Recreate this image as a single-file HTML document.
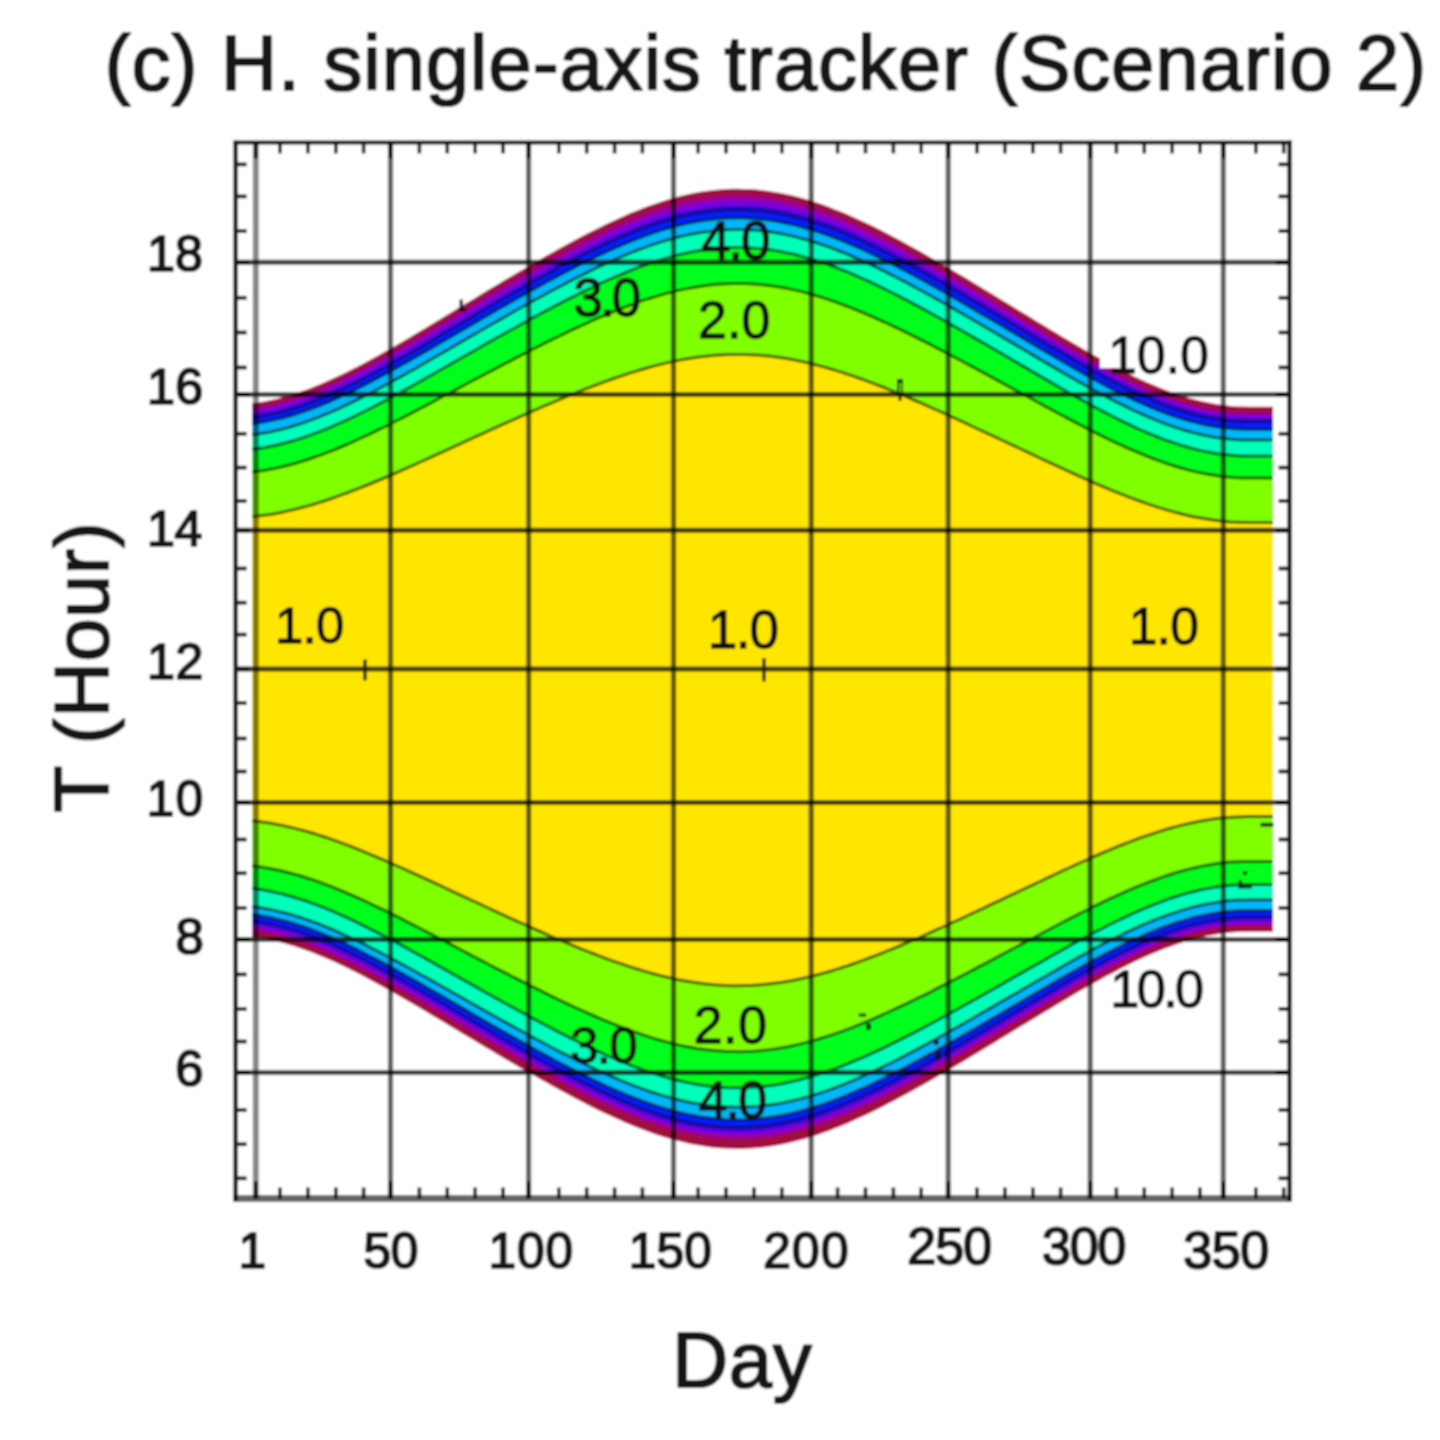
<!DOCTYPE html>
<html><head><meta charset="utf-8"><style>html,body{margin:0;padding:0;background:#fff;}svg{display:block;}</style></head>
<body><svg width="1440" height="1440" viewBox="0 0 1440 1440">
<defs><filter id="bl" x="0" y="0" width="1440" height="1440" filterUnits="userSpaceOnUse"><feGaussianBlur stdDeviation="1.0"/></filter></defs>
<rect width="1440" height="1440" fill="#fff"/>
<g filter="url(#bl)">
<rect width="1440" height="1440" fill="#fff"/>
<path d="M252.0,403.4 L258.0,402.5 L264.0,401.5 L270.0,400.3 L276.0,398.9 L282.0,397.3 L288.0,395.7 L294.0,393.8 L300.0,391.8 L306.1,389.7 L312.1,387.4 L318.1,385.0 L324.1,382.5 L330.1,379.8 L336.1,377.1 L342.1,374.2 L348.1,371.3 L354.1,368.3 L360.1,365.2 L366.1,362.0 L372.1,358.7 L378.1,355.4 L384.1,352.1 L390.1,348.7 L396.1,345.2 L402.1,341.7 L408.2,338.2 L414.2,334.6 L420.2,331.0 L426.2,327.4 L432.2,323.8 L438.2,320.2 L444.2,316.6 L450.2,312.9 L456.2,309.3 L462.2,305.6 L468.2,302.0 L474.2,298.4 L480.2,294.7 L486.2,291.1 L492.2,287.5 L498.2,283.9 L504.2,280.3 L510.3,276.7 L516.3,273.2 L522.3,269.7 L528.3,266.2 L534.3,262.7 L540.3,259.2 L546.3,255.8 L552.3,252.4 L558.3,249.0 L564.3,245.7 L570.3,242.5 L576.3,239.2 L582.3,236.1 L588.3,232.9 L594.3,229.9 L600.3,226.9 L606.3,224.0 L612.4,221.2 L618.4,218.4 L624.4,215.7 L630.4,213.1 L636.4,210.7 L642.4,208.3 L648.4,206.0 L654.4,203.9 L660.4,201.9 L666.4,200.0 L672.4,198.2 L678.4,196.6 L684.4,195.1 L690.4,193.8 L696.4,192.6 L702.4,191.6 L708.4,190.7 L714.5,190.0 L720.5,189.4 L726.5,189.0 L732.5,188.8 L738.5,188.8 L744.5,188.9 L750.5,189.1 L756.5,189.6 L762.5,190.2 L768.5,191.0 L774.5,191.9 L780.5,193.0 L786.5,194.2 L792.5,195.6 L798.5,197.1 L804.5,198.8 L810.5,200.6 L816.6,202.6 L822.6,204.6 L828.6,206.8 L834.6,209.2 L840.6,211.6 L846.6,214.1 L852.6,216.7 L858.6,219.4 L864.6,222.3 L870.6,225.1 L876.6,228.1 L882.6,231.1 L888.6,234.2 L894.6,237.4 L900.6,240.6 L906.6,243.9 L912.6,247.2 L918.7,250.6 L924.7,254.0 L930.7,257.4 L936.7,260.9 L942.7,264.4 L948.7,267.9 L954.7,271.4 L960.7,275.0 L966.7,278.6 L972.7,282.2 L978.7,285.8 L984.7,289.5 L990.7,293.1 L996.7,296.8 L1002.7,300.4 L1008.7,304.1 L1014.7,307.8 L1020.8,311.4 L1026.8,315.1 L1032.8,318.8 L1038.8,322.4 L1044.8,326.1 L1050.8,329.7 L1056.8,333.3 L1062.8,336.9 L1068.8,340.5 L1074.8,344.1 L1080.8,347.6 L1086.8,351.0 L1092.8,354.5 L1098.8,357.8 L1104.8,361.1 L1110.8,364.4 L1116.8,367.6 L1122.9,370.7 L1128.9,373.7 L1134.9,376.7 L1140.9,379.5 L1146.9,382.2 L1152.9,384.8 L1158.9,387.3 L1164.9,389.7 L1170.9,392.0 L1176.9,394.1 L1182.9,396.0 L1188.9,397.9 L1194.9,399.5 L1200.9,401.0 L1206.9,402.3 L1212.9,403.5 L1218.9,404.5 L1225.0,405.3 L1231.0,405.9 L1237.0,406.4 L1243.0,406.6 L1249.0,406.7 L1255.0,406.7 L1261.0,406.7 L1267.0,406.7 L1273.0,406.7 L1273.0,931.7 L1267.0,931.7 L1261.0,931.7 L1255.0,931.7 L1249.0,931.7 L1243.0,931.8 L1237.0,932.0 L1231.0,932.5 L1225.0,933.1 L1218.9,933.9 L1212.9,934.9 L1206.9,936.1 L1200.9,937.4 L1194.9,938.9 L1188.9,940.5 L1182.9,942.3 L1176.9,944.3 L1170.9,946.4 L1164.9,948.6 L1158.9,951.0 L1152.9,953.5 L1146.9,956.1 L1140.9,958.8 L1134.9,961.6 L1128.9,964.6 L1122.9,967.6 L1116.8,970.7 L1110.8,973.9 L1104.8,977.1 L1098.8,980.4 L1092.8,983.8 L1086.8,987.2 L1080.8,990.6 L1074.8,994.1 L1068.8,997.7 L1062.8,1001.2 L1056.8,1004.8 L1050.8,1008.4 L1044.8,1012.0 L1038.8,1015.7 L1032.8,1019.3 L1026.8,1023.0 L1020.8,1026.6 L1014.7,1030.3 L1008.7,1034.0 L1002.7,1037.6 L996.7,1041.3 L990.7,1044.9 L984.7,1048.5 L978.7,1052.2 L972.7,1055.8 L966.7,1059.4 L960.7,1062.9 L954.7,1066.5 L948.7,1070.0 L942.7,1073.5 L936.7,1077.0 L930.7,1080.5 L924.7,1083.9 L918.7,1087.3 L912.6,1090.7 L906.6,1094.0 L900.6,1097.2 L894.6,1100.4 L888.6,1103.6 L882.6,1106.7 L876.6,1109.7 L870.6,1112.7 L864.6,1115.5 L858.6,1118.3 L852.6,1121.1 L846.6,1123.7 L840.6,1126.2 L834.6,1128.6 L828.6,1130.9 L822.6,1133.1 L816.6,1135.2 L810.5,1137.1 L804.5,1138.9 L798.5,1140.6 L792.5,1142.1 L786.5,1143.5 L780.5,1144.7 L774.5,1145.8 L768.5,1146.7 L762.5,1147.5 L756.5,1148.1 L750.5,1148.5 L744.5,1148.8 L738.5,1148.9 L732.5,1148.8 L726.5,1148.6 L720.5,1148.2 L714.5,1147.7 L708.4,1147.0 L702.4,1146.1 L696.4,1145.1 L690.4,1143.9 L684.4,1142.6 L678.4,1141.1 L672.4,1139.5 L666.4,1137.8 L660.4,1135.9 L654.4,1133.9 L648.4,1131.8 L642.4,1129.5 L636.4,1127.2 L630.4,1124.8 L624.4,1122.2 L618.4,1119.6 L612.4,1116.8 L606.3,1114.0 L600.3,1111.2 L594.3,1108.2 L588.3,1105.2 L582.3,1102.1 L576.3,1099.0 L570.3,1095.8 L564.3,1092.6 L558.3,1089.3 L552.3,1086.0 L546.3,1082.6 L540.3,1079.3 L534.3,1075.8 L528.3,1072.4 L522.3,1068.9 L516.3,1065.5 L510.3,1061.9 L504.2,1058.4 L498.2,1054.9 L492.2,1051.3 L486.2,1047.7 L480.2,1044.2 L474.2,1040.6 L468.2,1037.0 L462.2,1033.4 L456.2,1029.8 L450.2,1026.2 L444.2,1022.6 L438.2,1019.0 L432.2,1015.4 L426.2,1011.8 L420.2,1008.3 L414.2,1004.8 L408.2,1001.2 L402.1,997.8 L396.1,994.3 L390.1,990.9 L384.1,987.5 L378.1,984.2 L372.1,980.9 L366.1,977.7 L360.1,974.6 L354.1,971.5 L348.1,968.5 L342.1,965.6 L336.1,962.8 L330.1,960.1 L324.1,957.5 L318.1,955.0 L312.1,952.6 L306.1,950.3 L300.0,948.2 L294.0,946.3 L288.0,944.4 L282.0,942.8 L276.0,941.2 L270.0,939.9 L264.0,938.7 L258.0,937.7 L252.0,936.8 Z" fill="#a00840"/>
<path d="M252.0,407.8 L258.0,406.9 L264.0,405.9 L270.0,404.7 L276.0,403.3 L282.0,401.8 L288.0,400.1 L294.0,398.3 L300.0,396.3 L306.1,394.2 L312.1,392.0 L318.1,389.6 L324.1,387.1 L330.1,384.5 L336.1,381.7 L342.1,378.9 L348.1,376.0 L354.1,373.0 L360.1,369.9 L366.1,366.8 L372.1,363.5 L378.1,360.3 L384.1,356.9 L390.1,353.5 L396.1,350.1 L402.1,346.6 L408.2,343.1 L414.2,339.6 L420.2,336.1 L426.2,332.5 L432.2,328.9 L438.2,325.3 L444.2,321.7 L450.2,318.1 L456.2,314.5 L462.2,310.9 L468.2,307.3 L474.2,303.7 L480.2,300.1 L486.2,296.5 L492.2,292.9 L498.2,289.3 L504.2,285.8 L510.3,282.2 L516.3,278.7 L522.3,275.2 L528.3,271.7 L534.3,268.3 L540.3,264.9 L546.3,261.5 L552.3,258.1 L558.3,254.8 L564.3,251.5 L570.3,248.3 L576.3,245.1 L582.3,241.9 L588.3,238.8 L594.3,235.8 L600.3,232.9 L606.3,230.0 L612.4,227.2 L618.4,224.4 L624.4,221.8 L630.4,219.2 L636.4,216.8 L642.4,214.4 L648.4,212.2 L654.4,210.0 L660.4,208.0 L666.4,206.2 L672.4,204.4 L678.4,202.8 L684.4,201.3 L690.4,200.0 L696.4,198.8 L702.4,197.8 L708.4,196.9 L714.5,196.2 L720.5,195.7 L726.5,195.3 L732.5,195.1 L738.5,195.0 L744.5,195.1 L750.5,195.4 L756.5,195.8 L762.5,196.4 L768.5,197.2 L774.5,198.1 L780.5,199.2 L786.5,200.4 L792.5,201.8 L798.5,203.3 L804.5,205.0 L810.5,206.8 L816.6,208.8 L822.6,210.8 L828.6,213.0 L834.6,215.3 L840.6,217.8 L846.6,220.3 L852.6,222.9 L858.6,225.6 L864.6,228.4 L870.6,231.3 L876.6,234.2 L882.6,237.3 L888.6,240.4 L894.6,243.5 L900.6,246.7 L906.6,250.0 L912.6,253.3 L918.7,256.7 L924.7,260.1 L930.7,263.5 L936.7,267.0 L942.7,270.5 L948.7,274.0 L954.7,277.5 L960.7,281.1 L966.7,284.7 L972.7,288.3 L978.7,291.9 L984.7,295.5 L990.7,299.1 L996.7,302.8 L1002.7,306.4 L1008.7,310.1 L1014.7,313.8 L1020.8,317.4 L1026.8,321.1 L1032.8,324.7 L1038.8,328.4 L1044.8,332.0 L1050.8,335.7 L1056.8,339.3 L1062.8,342.9 L1068.8,346.4 L1074.8,350.0 L1080.8,353.5 L1086.8,356.9 L1092.8,360.4 L1098.8,363.7 L1104.8,367.0 L1110.8,370.3 L1116.8,373.5 L1122.9,376.6 L1128.9,379.6 L1134.9,382.5 L1140.9,385.3 L1146.9,388.1 L1152.9,390.7 L1158.9,393.2 L1164.9,395.6 L1170.9,397.8 L1176.9,399.9 L1182.9,401.9 L1188.9,403.7 L1194.9,405.3 L1200.9,406.8 L1206.9,408.1 L1212.9,409.3 L1218.9,410.3 L1225.0,411.1 L1231.0,411.7 L1237.0,412.2 L1243.0,412.4 L1249.0,412.5 L1255.0,412.5 L1261.0,412.5 L1267.0,412.5 L1273.0,412.5 L1273.0,926.0 L1267.0,926.0 L1261.0,926.0 L1255.0,926.0 L1249.0,926.0 L1243.0,926.1 L1237.0,926.3 L1231.0,926.8 L1225.0,927.4 L1218.9,928.2 L1212.9,929.1 L1206.9,930.3 L1200.9,931.6 L1194.9,933.0 L1188.9,934.6 L1182.9,936.4 L1176.9,938.3 L1170.9,940.4 L1164.9,942.6 L1158.9,944.9 L1152.9,947.4 L1146.9,949.9 L1140.9,952.6 L1134.9,955.4 L1128.9,958.2 L1122.9,961.2 L1116.8,964.2 L1110.8,967.3 L1104.8,970.5 L1098.8,973.8 L1092.8,977.1 L1086.8,980.4 L1080.8,983.8 L1074.8,987.2 L1068.8,990.7 L1062.8,994.2 L1056.8,997.7 L1050.8,1001.2 L1044.8,1004.8 L1038.8,1008.4 L1032.8,1011.9 L1026.8,1015.5 L1020.8,1019.1 L1014.7,1022.7 L1008.7,1026.3 L1002.7,1029.9 L996.7,1033.4 L990.7,1037.0 L984.7,1040.6 L978.7,1044.1 L972.7,1047.7 L966.7,1051.2 L960.7,1054.7 L954.7,1058.2 L948.7,1061.7 L942.7,1065.1 L936.7,1068.5 L930.7,1071.9 L924.7,1075.3 L918.7,1078.6 L912.6,1081.9 L906.6,1085.1 L900.6,1088.3 L894.6,1091.5 L888.6,1094.6 L882.6,1097.6 L876.6,1100.6 L870.6,1103.5 L864.6,1106.3 L858.6,1109.0 L852.6,1111.7 L846.6,1114.3 L840.6,1116.7 L834.6,1119.1 L828.6,1121.3 L822.6,1123.5 L816.6,1125.5 L810.5,1127.4 L804.5,1129.2 L798.5,1130.8 L792.5,1132.3 L786.5,1133.7 L780.5,1134.9 L774.5,1135.9 L768.5,1136.9 L762.5,1137.6 L756.5,1138.2 L750.5,1138.6 L744.5,1138.9 L738.5,1139.0 L732.5,1138.9 L726.5,1138.7 L720.5,1138.3 L714.5,1137.8 L708.4,1137.1 L702.4,1136.3 L696.4,1135.3 L690.4,1134.1 L684.4,1132.8 L678.4,1131.4 L672.4,1129.8 L666.4,1128.1 L660.4,1126.2 L654.4,1124.3 L648.4,1122.2 L642.4,1120.0 L636.4,1117.7 L630.4,1115.3 L624.4,1112.8 L618.4,1110.2 L612.4,1107.5 L606.3,1104.8 L600.3,1101.9 L594.3,1099.0 L588.3,1096.1 L582.3,1093.0 L576.3,1090.0 L570.3,1086.8 L564.3,1083.7 L558.3,1080.4 L552.3,1077.2 L546.3,1073.9 L540.3,1070.6 L534.3,1067.2 L528.3,1063.8 L522.3,1060.4 L516.3,1057.0 L510.3,1053.5 L504.2,1050.1 L498.2,1046.6 L492.2,1043.1 L486.2,1039.6 L480.2,1036.1 L474.2,1032.6 L468.2,1029.0 L462.2,1025.5 L456.2,1021.9 L450.2,1018.4 L444.2,1014.9 L438.2,1011.3 L432.2,1007.8 L426.2,1004.3 L420.2,1000.8 L414.2,997.3 L408.2,993.9 L402.1,990.5 L396.1,987.1 L390.1,983.7 L384.1,980.4 L378.1,977.1 L372.1,973.9 L366.1,970.8 L360.1,967.7 L354.1,964.7 L348.1,961.7 L342.1,958.9 L336.1,956.1 L330.1,953.4 L324.1,950.9 L318.1,948.4 L312.1,946.1 L306.1,943.9 L300.0,941.8 L294.0,939.9 L288.0,938.1 L282.0,936.4 L276.0,934.9 L270.0,933.6 L264.0,932.4 L258.0,931.4 L252.0,930.6 Z" fill="#9c0098"/>
<path d="M252.0,411.2 L258.0,410.3 L264.0,409.3 L270.0,408.1 L276.0,406.8 L282.0,405.3 L288.0,403.6 L294.0,401.8 L300.0,399.9 L306.1,397.8 L312.1,395.5 L318.1,393.2 L324.1,390.7 L330.1,388.1 L336.1,385.4 L342.1,382.6 L348.1,379.7 L354.1,376.8 L360.1,373.7 L366.1,370.6 L372.1,367.4 L378.1,364.1 L384.1,360.8 L390.1,357.5 L396.1,354.1 L402.1,350.7 L408.2,347.2 L414.2,343.7 L420.2,340.2 L426.2,336.7 L432.2,333.1 L438.2,329.6 L444.2,326.0 L450.2,322.4 L456.2,318.8 L462.2,315.3 L468.2,311.7 L474.2,308.1 L480.2,304.5 L486.2,301.0 L492.2,297.4 L498.2,293.9 L504.2,290.4 L510.3,286.9 L516.3,283.4 L522.3,279.9 L528.3,276.5 L534.3,273.1 L540.3,269.7 L546.3,266.3 L552.3,263.0 L558.3,259.7 L564.3,256.5 L570.3,253.2 L576.3,250.1 L582.3,247.0 L588.3,243.9 L594.3,240.9 L600.3,238.0 L606.3,235.1 L612.4,232.3 L618.4,229.6 L624.4,227.0 L630.4,224.5 L636.4,222.0 L642.4,219.7 L648.4,217.5 L654.4,215.4 L660.4,213.4 L666.4,211.5 L672.4,209.8 L678.4,208.2 L684.4,206.8 L690.4,205.4 L696.4,204.3 L702.4,203.3 L708.4,202.4 L714.5,201.7 L720.5,201.2 L726.5,200.8 L732.5,200.6 L738.5,200.5 L744.5,200.6 L750.5,200.9 L756.5,201.3 L762.5,201.9 L768.5,202.7 L774.5,203.6 L780.5,204.7 L786.5,205.9 L792.5,207.2 L798.5,208.8 L804.5,210.4 L810.5,212.2 L816.6,214.1 L822.6,216.2 L828.6,218.3 L834.6,220.6 L840.6,223.0 L846.6,225.5 L852.6,228.1 L858.6,230.8 L864.6,233.5 L870.6,236.4 L876.6,239.3 L882.6,242.3 L888.6,245.4 L894.6,248.5 L900.6,251.7 L906.6,254.9 L912.6,258.2 L918.7,261.5 L924.7,264.9 L930.7,268.3 L936.7,271.7 L942.7,275.1 L948.7,278.6 L954.7,282.1 L960.7,285.6 L966.7,289.2 L972.7,292.7 L978.7,296.3 L984.7,299.9 L990.7,303.5 L996.7,307.1 L1002.7,310.7 L1008.7,314.3 L1014.7,318.0 L1020.8,321.6 L1026.8,325.2 L1032.8,328.8 L1038.8,332.4 L1044.8,336.0 L1050.8,339.6 L1056.8,343.2 L1062.8,346.7 L1068.8,350.3 L1074.8,353.8 L1080.8,357.2 L1086.8,360.7 L1092.8,364.0 L1098.8,367.4 L1104.8,370.6 L1110.8,373.9 L1116.8,377.0 L1122.9,380.1 L1128.9,383.0 L1134.9,385.9 L1140.9,388.7 L1146.9,391.4 L1152.9,394.0 L1158.9,396.5 L1164.9,398.8 L1170.9,401.1 L1176.9,403.1 L1182.9,405.1 L1188.9,406.9 L1194.9,408.5 L1200.9,410.0 L1206.9,411.3 L1212.9,412.4 L1218.9,413.4 L1225.0,414.2 L1231.0,414.8 L1237.0,415.3 L1243.0,415.5 L1249.0,415.6 L1255.0,415.6 L1261.0,415.6 L1267.0,415.6 L1273.0,415.6 L1273.0,923.0 L1267.0,923.0 L1261.0,923.0 L1255.0,923.0 L1249.0,923.0 L1243.0,923.1 L1237.0,923.3 L1231.0,923.8 L1225.0,924.4 L1218.9,925.2 L1212.9,926.1 L1206.9,927.2 L1200.9,928.5 L1194.9,930.0 L1188.9,931.6 L1182.9,933.4 L1176.9,935.3 L1170.9,937.3 L1164.9,939.5 L1158.9,941.8 L1152.9,944.3 L1146.9,946.8 L1140.9,949.5 L1134.9,952.2 L1128.9,955.1 L1122.9,958.0 L1116.8,961.0 L1110.8,964.1 L1104.8,967.3 L1098.8,970.5 L1092.8,973.8 L1086.8,977.1 L1080.8,980.5 L1074.8,983.9 L1068.8,987.4 L1062.8,990.9 L1056.8,994.4 L1050.8,997.9 L1044.8,1001.4 L1038.8,1005.0 L1032.8,1008.5 L1026.8,1012.1 L1020.8,1015.7 L1014.7,1019.2 L1008.7,1022.8 L1002.7,1026.4 L996.7,1029.9 L990.7,1033.5 L984.7,1037.0 L978.7,1040.6 L972.7,1044.1 L966.7,1047.6 L960.7,1051.1 L954.7,1054.6 L948.7,1058.0 L942.7,1061.4 L936.7,1064.8 L930.7,1068.2 L924.7,1071.6 L918.7,1074.9 L912.6,1078.1 L906.6,1081.4 L900.6,1084.6 L894.6,1087.7 L888.6,1090.8 L882.6,1093.8 L876.6,1096.7 L870.6,1099.6 L864.6,1102.4 L858.6,1105.2 L852.6,1107.8 L846.6,1110.4 L840.6,1112.8 L834.6,1115.2 L828.6,1117.4 L822.6,1119.6 L816.6,1121.6 L810.5,1123.5 L804.5,1125.2 L798.5,1126.9 L792.5,1128.3 L786.5,1129.7 L780.5,1130.9 L774.5,1132.0 L768.5,1132.9 L762.5,1133.6 L756.5,1134.2 L750.5,1134.6 L744.5,1134.9 L738.5,1135.0 L732.5,1134.9 L726.5,1134.7 L720.5,1134.4 L714.5,1133.8 L708.4,1133.1 L702.4,1132.3 L696.4,1131.3 L690.4,1130.1 L684.4,1128.8 L678.4,1127.4 L672.4,1125.8 L666.4,1124.1 L660.4,1122.3 L654.4,1120.3 L648.4,1118.2 L642.4,1116.0 L636.4,1113.7 L630.4,1111.3 L624.4,1108.8 L618.4,1106.3 L612.4,1103.6 L606.3,1100.8 L600.3,1098.0 L594.3,1095.1 L588.3,1092.2 L582.3,1089.2 L576.3,1086.1 L570.3,1083.0 L564.3,1079.8 L558.3,1076.6 L552.3,1073.3 L546.3,1070.0 L540.3,1066.7 L534.3,1063.4 L528.3,1060.0 L522.3,1056.6 L516.3,1053.2 L510.3,1049.8 L504.2,1046.3 L498.2,1042.8 L492.2,1039.3 L486.2,1035.8 L480.2,1032.3 L474.2,1028.8 L468.2,1025.3 L462.2,1021.8 L456.2,1018.2 L450.2,1014.7 L444.2,1011.2 L438.2,1007.6 L432.2,1004.1 L426.2,1000.6 L420.2,997.2 L414.2,993.7 L408.2,990.2 L402.1,986.8 L396.1,983.4 L390.1,980.1 L384.1,976.8 L378.1,973.5 L372.1,970.3 L366.1,967.2 L360.1,964.1 L354.1,961.1 L348.1,958.1 L342.1,955.3 L336.1,952.5 L330.1,949.9 L324.1,947.3 L318.1,944.9 L312.1,942.5 L306.1,940.3 L300.0,938.3 L294.0,936.3 L288.0,934.6 L282.0,932.9 L276.0,931.4 L270.0,930.1 L264.0,928.9 L258.0,927.9 L252.0,927.1 Z" fill="#7400e4"/>
<path d="M252.0,414.7 L258.0,413.8 L264.0,412.8 L270.0,411.6 L276.0,410.3 L282.0,408.8 L288.0,407.2 L294.0,405.4 L300.0,403.4 L306.1,401.3 L312.1,399.1 L318.1,396.8 L324.1,394.4 L330.1,391.8 L336.1,389.1 L342.1,386.4 L348.1,383.5 L354.1,380.5 L360.1,377.5 L366.1,374.4 L372.1,371.3 L378.1,368.1 L384.1,364.8 L390.1,361.5 L396.1,358.1 L402.1,354.7 L408.2,351.3 L414.2,347.8 L420.2,344.3 L426.2,340.8 L432.2,337.3 L438.2,333.8 L444.2,330.3 L450.2,326.7 L456.2,323.2 L462.2,319.7 L468.2,316.1 L474.2,312.6 L480.2,309.0 L486.2,305.5 L492.2,302.0 L498.2,298.5 L504.2,295.0 L510.3,291.6 L516.3,288.1 L522.3,284.7 L528.3,281.3 L534.3,277.9 L540.3,274.5 L546.3,271.2 L552.3,267.9 L558.3,264.6 L564.3,261.4 L570.3,258.2 L576.3,255.1 L582.3,252.0 L588.3,249.0 L594.3,246.0 L600.3,243.1 L606.3,240.3 L612.4,237.5 L618.4,234.8 L624.4,232.2 L630.4,229.7 L636.4,227.3 L642.4,225.0 L648.4,222.8 L654.4,220.7 L660.4,218.8 L666.4,216.9 L672.4,215.2 L678.4,213.6 L684.4,212.2 L690.4,210.9 L696.4,209.7 L702.4,208.7 L708.4,207.9 L714.5,207.2 L720.5,206.7 L726.5,206.3 L732.5,206.1 L738.5,206.0 L744.5,206.1 L750.5,206.4 L756.5,206.8 L762.5,207.4 L768.5,208.1 L774.5,209.1 L780.5,210.1 L786.5,211.3 L792.5,212.7 L798.5,214.2 L804.5,215.8 L810.5,217.6 L816.6,219.5 L822.6,221.5 L828.6,223.6 L834.6,225.9 L840.6,228.3 L846.6,230.7 L852.6,233.3 L858.6,235.9 L864.6,238.7 L870.6,241.5 L876.6,244.4 L882.6,247.4 L888.6,250.4 L894.6,253.5 L900.6,256.6 L906.6,259.8 L912.6,263.1 L918.7,266.3 L924.7,269.7 L930.7,273.0 L936.7,276.4 L942.7,279.8 L948.7,283.3 L954.7,286.7 L960.7,290.2 L966.7,293.7 L972.7,297.2 L978.7,300.8 L984.7,304.3 L990.7,307.9 L996.7,311.4 L1002.7,315.0 L1008.7,318.6 L1014.7,322.2 L1020.8,325.8 L1026.8,329.3 L1032.8,332.9 L1038.8,336.5 L1044.8,340.0 L1050.8,343.6 L1056.8,347.1 L1062.8,350.6 L1068.8,354.1 L1074.8,357.6 L1080.8,361.0 L1086.8,364.4 L1092.8,367.8 L1098.8,371.0 L1104.8,374.3 L1110.8,377.5 L1116.8,380.6 L1122.9,383.6 L1128.9,386.6 L1134.9,389.4 L1140.9,392.2 L1146.9,394.9 L1152.9,397.4 L1158.9,399.9 L1164.9,402.2 L1170.9,404.4 L1176.9,406.4 L1182.9,408.3 L1188.9,410.1 L1194.9,411.7 L1200.9,413.2 L1206.9,414.5 L1212.9,415.6 L1218.9,416.6 L1225.0,417.4 L1231.0,418.0 L1237.0,418.4 L1243.0,418.7 L1249.0,418.8 L1255.0,418.8 L1261.0,418.8 L1267.0,418.8 L1273.0,418.8 L1273.0,920.0 L1267.0,920.0 L1261.0,920.0 L1255.0,920.0 L1249.0,920.0 L1243.0,920.1 L1237.0,920.3 L1231.0,920.8 L1225.0,921.4 L1218.9,922.1 L1212.9,923.1 L1206.9,924.2 L1200.9,925.5 L1194.9,927.0 L1188.9,928.6 L1182.9,930.3 L1176.9,932.2 L1170.9,934.2 L1164.9,936.4 L1158.9,938.7 L1152.9,941.1 L1146.9,943.7 L1140.9,946.3 L1134.9,949.1 L1128.9,951.9 L1122.9,954.8 L1116.8,957.8 L1110.8,960.9 L1104.8,964.1 L1098.8,967.3 L1092.8,970.5 L1086.8,973.8 L1080.8,977.2 L1074.8,980.6 L1068.8,984.0 L1062.8,987.5 L1056.8,991.0 L1050.8,994.5 L1044.8,998.0 L1038.8,1001.5 L1032.8,1005.0 L1026.8,1008.6 L1020.8,1012.1 L1014.7,1015.7 L1008.7,1019.2 L1002.7,1022.8 L996.7,1026.3 L990.7,1029.9 L984.7,1033.4 L978.7,1036.9 L972.7,1040.4 L966.7,1043.9 L960.7,1047.4 L954.7,1050.8 L948.7,1054.2 L942.7,1057.7 L936.7,1061.0 L930.7,1064.4 L924.7,1067.7 L918.7,1071.0 L912.6,1074.3 L906.6,1077.5 L900.6,1080.6 L894.6,1083.7 L888.6,1086.8 L882.6,1089.8 L876.6,1092.7 L870.6,1095.6 L864.6,1098.4 L858.6,1101.1 L852.6,1103.7 L846.6,1106.3 L840.6,1108.7 L834.6,1111.1 L828.6,1113.3 L822.6,1115.4 L816.6,1117.4 L810.5,1119.3 L804.5,1121.1 L798.5,1122.7 L792.5,1124.2 L786.5,1125.5 L780.5,1126.7 L774.5,1127.8 L768.5,1128.7 L762.5,1129.4 L756.5,1130.0 L750.5,1130.4 L744.5,1130.7 L738.5,1130.8 L732.5,1130.7 L726.5,1130.5 L720.5,1130.2 L714.5,1129.6 L708.4,1128.9 L702.4,1128.1 L696.4,1127.1 L690.4,1125.9 L684.4,1124.7 L678.4,1123.2 L672.4,1121.7 L666.4,1120.0 L660.4,1118.1 L654.4,1116.2 L648.4,1114.1 L642.4,1111.9 L636.4,1109.6 L630.4,1107.2 L624.4,1104.7 L618.4,1102.2 L612.4,1099.5 L606.3,1096.8 L600.3,1094.0 L594.3,1091.1 L588.3,1088.1 L582.3,1085.1 L576.3,1082.1 L570.3,1078.9 L564.3,1075.8 L558.3,1072.6 L552.3,1069.3 L546.3,1066.1 L540.3,1062.8 L534.3,1059.4 L528.3,1056.1 L522.3,1052.7 L516.3,1049.3 L510.3,1045.8 L504.2,1042.4 L498.2,1038.9 L492.2,1035.5 L486.2,1032.0 L480.2,1028.5 L474.2,1025.0 L468.2,1021.4 L462.2,1017.9 L456.2,1014.4 L450.2,1010.9 L444.2,1007.4 L438.2,1003.9 L432.2,1000.4 L426.2,996.9 L420.2,993.4 L414.2,990.0 L408.2,986.5 L402.1,983.1 L396.1,979.7 L390.1,976.4 L384.1,973.1 L378.1,969.9 L372.1,966.7 L366.1,963.5 L360.1,960.5 L354.1,957.5 L348.1,954.5 L342.1,951.7 L336.1,948.9 L330.1,946.3 L324.1,943.7 L318.1,941.3 L312.1,939.0 L306.1,936.8 L300.0,934.7 L294.0,932.8 L288.0,931.0 L282.0,929.4 L276.0,927.9 L270.0,926.6 L264.0,925.4 L258.0,924.4 L252.0,923.6 Z" fill="#1808b0"/>
<path d="M252.0,419.9 L258.0,419.1 L264.0,418.1 L270.0,416.9 L276.0,415.6 L282.0,414.1 L288.0,412.4 L294.0,410.7 L300.0,408.7 L306.1,406.7 L312.1,404.5 L318.1,402.1 L324.1,399.7 L330.1,397.1 L336.1,394.5 L342.1,391.7 L348.1,388.9 L354.1,385.9 L360.1,382.9 L366.1,379.8 L372.1,376.7 L378.1,373.5 L384.1,370.2 L390.1,366.9 L396.1,363.6 L402.1,360.2 L408.2,356.8 L414.2,353.3 L420.2,349.8 L426.2,346.4 L432.2,342.9 L438.2,339.4 L444.2,335.8 L450.2,332.3 L456.2,328.8 L462.2,325.2 L468.2,321.7 L474.2,318.2 L480.2,314.7 L486.2,311.2 L492.2,307.7 L498.2,304.2 L504.2,300.7 L510.3,297.2 L516.3,293.8 L522.3,290.4 L528.3,287.0 L534.3,283.6 L540.3,280.3 L546.3,277.0 L552.3,273.7 L558.3,270.4 L564.3,267.2 L570.3,264.0 L576.3,260.9 L582.3,257.8 L588.3,254.8 L594.3,251.9 L600.3,249.0 L606.3,246.2 L612.4,243.4 L618.4,240.7 L624.4,238.2 L630.4,235.7 L636.4,233.3 L642.4,231.0 L648.4,228.8 L654.4,226.7 L660.4,224.7 L666.4,222.9 L672.4,221.2 L678.4,219.6 L684.4,218.2 L690.4,216.9 L696.4,215.7 L702.4,214.7 L708.4,213.9 L714.5,213.2 L720.5,212.6 L726.5,212.3 L732.5,212.1 L738.5,212.0 L744.5,212.1 L750.5,212.4 L756.5,212.8 L762.5,213.4 L768.5,214.1 L774.5,215.0 L780.5,216.1 L786.5,217.3 L792.5,218.7 L798.5,220.1 L804.5,221.8 L810.5,223.5 L816.6,225.4 L822.6,227.4 L828.6,229.6 L834.6,231.8 L840.6,234.2 L846.6,236.6 L852.6,239.2 L858.6,241.8 L864.6,244.6 L870.6,247.4 L876.6,250.3 L882.6,253.2 L888.6,256.2 L894.6,259.3 L900.6,262.4 L906.6,265.6 L912.6,268.9 L918.7,272.1 L924.7,275.4 L930.7,278.8 L936.7,282.2 L942.7,285.6 L948.7,289.0 L954.7,292.4 L960.7,295.9 L966.7,299.4 L972.7,302.9 L978.7,306.4 L984.7,310.0 L990.7,313.5 L996.7,317.1 L1002.7,320.6 L1008.7,324.2 L1014.7,327.8 L1020.8,331.3 L1026.8,334.9 L1032.8,338.5 L1038.8,342.0 L1044.8,345.6 L1050.8,349.1 L1056.8,352.6 L1062.8,356.1 L1068.8,359.6 L1074.8,363.1 L1080.8,366.5 L1086.8,369.9 L1092.8,373.2 L1098.8,376.5 L1104.8,379.7 L1110.8,382.9 L1116.8,386.0 L1122.9,389.0 L1128.9,391.9 L1134.9,394.8 L1140.9,397.5 L1146.9,400.2 L1152.9,402.7 L1158.9,405.2 L1164.9,407.5 L1170.9,409.7 L1176.9,411.7 L1182.9,413.6 L1188.9,415.4 L1194.9,417.0 L1200.9,418.5 L1206.9,419.8 L1212.9,420.9 L1218.9,421.8 L1225.0,422.6 L1231.0,423.2 L1237.0,423.7 L1243.0,423.9 L1249.0,424.0 L1255.0,424.0 L1261.0,424.0 L1267.0,424.0 L1273.0,424.0 L1273.0,915.0 L1267.0,915.0 L1261.0,915.0 L1255.0,915.0 L1249.0,915.0 L1243.0,915.1 L1237.0,915.3 L1231.0,915.8 L1225.0,916.4 L1218.9,917.1 L1212.9,918.1 L1206.9,919.2 L1200.9,920.5 L1194.9,921.9 L1188.9,923.5 L1182.9,925.3 L1176.9,927.2 L1170.9,929.2 L1164.9,931.4 L1158.9,933.6 L1152.9,936.1 L1146.9,938.6 L1140.9,941.2 L1134.9,944.0 L1128.9,946.8 L1122.9,949.7 L1116.8,952.7 L1110.8,955.8 L1104.8,958.9 L1098.8,962.1 L1092.8,965.3 L1086.8,968.6 L1080.8,972.0 L1074.8,975.4 L1068.8,978.8 L1062.8,982.2 L1056.8,985.7 L1050.8,989.2 L1044.8,992.7 L1038.8,996.2 L1032.8,999.7 L1026.8,1003.3 L1020.8,1006.8 L1014.7,1010.3 L1008.7,1013.9 L1002.7,1017.4 L996.7,1020.9 L990.7,1024.5 L984.7,1028.0 L978.7,1031.5 L972.7,1035.0 L966.7,1038.4 L960.7,1041.9 L954.7,1045.3 L948.7,1048.7 L942.7,1052.1 L936.7,1055.5 L930.7,1058.8 L924.7,1062.2 L918.7,1065.4 L912.6,1068.7 L906.6,1071.9 L900.6,1075.0 L894.6,1078.1 L888.6,1081.2 L882.6,1084.2 L876.6,1087.1 L870.6,1089.9 L864.6,1092.7 L858.6,1095.4 L852.6,1098.0 L846.6,1100.6 L840.6,1103.0 L834.6,1105.3 L828.6,1107.6 L822.6,1109.7 L816.6,1111.7 L810.5,1113.6 L804.5,1115.3 L798.5,1116.9 L792.5,1118.4 L786.5,1119.7 L780.5,1120.9 L774.5,1122.0 L768.5,1122.9 L762.5,1123.6 L756.5,1124.2 L750.5,1124.6 L744.5,1124.9 L738.5,1125.0 L732.5,1124.9 L726.5,1124.7 L720.5,1124.4 L714.5,1123.8 L708.4,1123.1 L702.4,1122.3 L696.4,1121.3 L690.4,1120.2 L684.4,1118.9 L678.4,1117.5 L672.4,1115.9 L666.4,1114.2 L660.4,1112.4 L654.4,1110.4 L648.4,1108.4 L642.4,1106.2 L636.4,1103.9 L630.4,1101.5 L624.4,1099.0 L618.4,1096.5 L612.4,1093.8 L606.3,1091.1 L600.3,1088.3 L594.3,1085.4 L588.3,1082.5 L582.3,1079.5 L576.3,1076.4 L570.3,1073.3 L564.3,1070.2 L558.3,1067.0 L552.3,1063.8 L546.3,1060.5 L540.3,1057.2 L534.3,1053.9 L528.3,1050.5 L522.3,1047.2 L516.3,1043.8 L510.3,1040.4 L504.2,1036.9 L498.2,1033.5 L492.2,1030.0 L486.2,1026.5 L480.2,1023.1 L474.2,1019.6 L468.2,1016.1 L462.2,1012.6 L456.2,1009.1 L450.2,1005.6 L444.2,1002.1 L438.2,998.6 L432.2,995.1 L426.2,991.6 L420.2,988.1 L414.2,984.7 L408.2,981.3 L402.1,977.9 L396.1,974.5 L390.1,971.2 L384.1,967.9 L378.1,964.7 L372.1,961.5 L366.1,958.4 L360.1,955.3 L354.1,952.3 L348.1,949.4 L342.1,946.6 L336.1,943.8 L330.1,941.2 L324.1,938.7 L318.1,936.2 L312.1,933.9 L306.1,931.7 L300.0,929.7 L294.0,927.8 L288.0,926.0 L282.0,924.4 L276.0,922.9 L270.0,921.6 L264.0,920.4 L258.0,919.4 L252.0,918.6 Z" fill="#0024ff"/>
<path d="M252.0,423.9 L258.0,423.1 L264.0,422.1 L270.0,420.9 L276.0,419.6 L282.0,418.2 L288.0,416.5 L294.0,414.8 L300.0,412.8 L306.1,410.8 L312.1,408.6 L318.1,406.3 L324.1,403.9 L330.1,401.4 L336.1,398.7 L342.1,396.0 L348.1,393.2 L354.1,390.3 L360.1,387.3 L366.1,384.2 L372.1,381.1 L378.1,377.9 L384.1,374.7 L390.1,371.4 L396.1,368.1 L402.1,364.8 L408.2,361.4 L414.2,358.0 L420.2,354.5 L426.2,351.1 L432.2,347.6 L438.2,344.1 L444.2,340.6 L450.2,337.2 L456.2,333.7 L462.2,330.2 L468.2,326.7 L474.2,323.2 L480.2,319.7 L486.2,316.2 L492.2,312.8 L498.2,309.3 L504.2,305.9 L510.3,302.4 L516.3,299.0 L522.3,295.6 L528.3,292.3 L534.3,288.9 L540.3,285.6 L546.3,282.3 L552.3,279.1 L558.3,275.9 L564.3,272.7 L570.3,269.6 L576.3,266.5 L582.3,263.4 L588.3,260.5 L594.3,257.5 L600.3,254.7 L606.3,251.9 L612.4,249.1 L618.4,246.5 L624.4,243.9 L630.4,241.5 L636.4,239.1 L642.4,236.8 L648.4,234.6 L654.4,232.6 L660.4,230.6 L666.4,228.8 L672.4,227.1 L678.4,225.6 L684.4,224.1 L690.4,222.8 L696.4,221.7 L702.4,220.7 L708.4,219.9 L714.5,219.2 L720.5,218.6 L726.5,218.3 L732.5,218.1 L738.5,218.0 L744.5,218.1 L750.5,218.4 L756.5,218.8 L762.5,219.4 L768.5,220.1 L774.5,221.0 L780.5,222.1 L786.5,223.3 L792.5,224.6 L798.5,226.1 L804.5,227.7 L810.5,229.5 L816.6,231.4 L822.6,233.4 L828.6,235.5 L834.6,237.7 L840.6,240.1 L846.6,242.5 L852.6,245.1 L858.6,247.7 L864.6,250.5 L870.6,253.3 L876.6,256.1 L882.6,259.1 L888.6,262.1 L894.6,265.2 L900.6,268.3 L906.6,271.5 L912.6,274.7 L918.7,277.9 L924.7,281.2 L930.7,284.6 L936.7,287.9 L942.7,291.3 L948.7,294.8 L954.7,298.2 L960.7,301.7 L966.7,305.2 L972.7,308.6 L978.7,312.2 L984.7,315.7 L990.7,319.2 L996.7,322.8 L1002.7,326.3 L1008.7,329.9 L1014.7,333.4 L1020.8,337.0 L1026.8,340.6 L1032.8,344.1 L1038.8,347.7 L1044.8,351.2 L1050.8,354.7 L1056.8,358.2 L1062.8,361.7 L1068.8,365.2 L1074.8,368.6 L1080.8,372.0 L1086.8,375.4 L1092.8,378.7 L1098.8,382.0 L1104.8,385.2 L1110.8,388.4 L1116.8,391.5 L1122.9,394.5 L1128.9,397.4 L1134.9,400.3 L1140.9,403.0 L1146.9,405.7 L1152.9,408.2 L1158.9,410.6 L1164.9,412.9 L1170.9,415.1 L1176.9,417.2 L1182.9,419.1 L1188.9,420.8 L1194.9,422.4 L1200.9,423.9 L1206.9,425.2 L1212.9,426.3 L1218.9,427.2 L1225.0,428.0 L1231.0,428.6 L1237.0,429.1 L1243.0,429.3 L1249.0,429.4 L1255.0,429.4 L1261.0,429.4 L1267.0,429.4 L1273.0,429.4 L1273.0,910.4 L1267.0,910.4 L1261.0,910.4 L1255.0,910.4 L1249.0,910.4 L1243.0,910.5 L1237.0,910.7 L1231.0,911.2 L1225.0,911.8 L1218.9,912.5 L1212.9,913.5 L1206.9,914.6 L1200.9,915.9 L1194.9,917.3 L1188.9,918.9 L1182.9,920.6 L1176.9,922.5 L1170.9,924.5 L1164.9,926.7 L1158.9,929.0 L1152.9,931.4 L1146.9,933.9 L1140.9,936.5 L1134.9,939.3 L1128.9,942.1 L1122.9,945.0 L1116.8,948.0 L1110.8,951.0 L1104.8,954.1 L1098.8,957.3 L1092.8,960.6 L1086.8,963.9 L1080.8,967.2 L1074.8,970.6 L1068.8,974.0 L1062.8,977.4 L1056.8,980.9 L1050.8,984.3 L1044.8,987.8 L1038.8,991.3 L1032.8,994.8 L1026.8,998.4 L1020.8,1001.9 L1014.7,1005.4 L1008.7,1008.9 L1002.7,1012.5 L996.7,1016.0 L990.7,1019.5 L984.7,1023.0 L978.7,1026.5 L972.7,1030.0 L966.7,1033.4 L960.7,1036.9 L954.7,1040.3 L948.7,1043.7 L942.7,1047.1 L936.7,1050.4 L930.7,1053.8 L924.7,1057.1 L918.7,1060.3 L912.6,1063.6 L906.6,1066.8 L900.6,1069.9 L894.6,1073.0 L888.6,1076.0 L882.6,1079.0 L876.6,1081.9 L870.6,1084.8 L864.6,1087.5 L858.6,1090.2 L852.6,1092.8 L846.6,1095.4 L840.6,1097.8 L834.6,1100.1 L828.6,1102.3 L822.6,1104.4 L816.6,1106.4 L810.5,1108.3 L804.5,1110.0 L798.5,1111.7 L792.5,1113.1 L786.5,1114.5 L780.5,1115.7 L774.5,1116.7 L768.5,1117.6 L762.5,1118.3 L756.5,1118.9 L750.5,1119.3 L744.5,1119.6 L738.5,1119.7 L732.5,1119.6 L726.5,1119.4 L720.5,1119.1 L714.5,1118.5 L708.4,1117.8 L702.4,1117.0 L696.4,1116.0 L690.4,1114.9 L684.4,1113.6 L678.4,1112.2 L672.4,1110.6 L666.4,1108.9 L660.4,1107.1 L654.4,1105.2 L648.4,1103.1 L642.4,1101.0 L636.4,1098.7 L630.4,1096.3 L624.4,1093.9 L618.4,1091.3 L612.4,1088.7 L606.3,1086.0 L600.3,1083.2 L594.3,1080.3 L588.3,1077.4 L582.3,1074.4 L576.3,1071.4 L570.3,1068.3 L564.3,1065.2 L558.3,1062.0 L552.3,1058.8 L546.3,1055.6 L540.3,1052.3 L534.3,1049.0 L528.3,1045.6 L522.3,1042.3 L516.3,1038.9 L510.3,1035.5 L504.2,1032.1 L498.2,1028.7 L492.2,1025.2 L486.2,1021.8 L480.2,1018.3 L474.2,1014.8 L468.2,1011.3 L462.2,1007.9 L456.2,1004.4 L450.2,1000.9 L444.2,997.4 L438.2,993.9 L432.2,990.5 L426.2,987.0 L420.2,983.6 L414.2,980.1 L408.2,976.7 L402.1,973.4 L396.1,970.0 L390.1,966.7 L384.1,963.4 L378.1,960.2 L372.1,957.1 L366.1,954.0 L360.1,950.9 L354.1,947.9 L348.1,945.0 L342.1,942.2 L336.1,939.5 L330.1,936.9 L324.1,934.3 L318.1,931.9 L312.1,929.6 L306.1,927.5 L300.0,925.4 L294.0,923.5 L288.0,921.7 L282.0,920.1 L276.0,918.7 L270.0,917.3 L264.0,916.2 L258.0,915.2 L252.0,914.4 Z" fill="#00b8f8"/>
<path d="M252.0,434.9 L258.0,434.1 L264.0,433.1 L270.0,432.0 L276.0,430.6 L282.0,429.2 L288.0,427.6 L294.0,425.8 L300.0,423.9 L306.1,421.8 L312.1,419.7 L318.1,417.4 L324.1,414.9 L330.1,412.4 L336.1,409.8 L342.1,407.1 L348.1,404.2 L354.1,401.4 L360.1,398.4 L366.1,395.3 L372.1,392.2 L378.1,389.0 L384.1,385.8 L390.1,382.6 L396.1,379.3 L402.1,375.9 L408.2,372.5 L414.2,369.1 L420.2,365.7 L426.2,362.3 L432.2,358.8 L438.2,355.3 L444.2,351.9 L450.2,348.4 L456.2,344.9 L462.2,341.4 L468.2,337.9 L474.2,334.4 L480.2,331.0 L486.2,327.5 L492.2,324.0 L498.2,320.6 L504.2,317.1 L510.3,313.7 L516.3,310.3 L522.3,307.0 L528.3,303.6 L534.3,300.3 L540.3,297.0 L546.3,293.7 L552.3,290.4 L558.3,287.2 L564.3,284.1 L570.3,280.9 L576.3,277.9 L582.3,274.8 L588.3,271.8 L594.3,268.9 L600.3,266.1 L606.3,263.3 L612.4,260.6 L618.4,257.9 L624.4,255.4 L630.4,252.9 L636.4,250.5 L642.4,248.3 L648.4,246.1 L654.4,244.0 L660.4,242.1 L666.4,240.3 L672.4,238.6 L678.4,237.0 L684.4,235.6 L690.4,234.3 L696.4,233.2 L702.4,232.2 L708.4,231.4 L714.5,230.7 L720.5,230.1 L726.5,229.8 L732.5,229.6 L738.5,229.5 L744.5,229.6 L750.5,229.9 L756.5,230.3 L762.5,230.9 L768.5,231.6 L774.5,232.5 L780.5,233.6 L786.5,234.8 L792.5,236.1 L798.5,237.6 L804.5,239.2 L810.5,240.9 L816.6,242.8 L822.6,244.8 L828.6,246.9 L834.6,249.2 L840.6,251.5 L846.6,253.9 L852.6,256.5 L858.6,259.1 L864.6,261.8 L870.6,264.6 L876.6,267.5 L882.6,270.4 L888.6,273.4 L894.6,276.5 L900.6,279.6 L906.6,282.7 L912.6,285.9 L918.7,289.2 L924.7,292.5 L930.7,295.8 L936.7,299.2 L942.7,302.5 L948.7,305.9 L954.7,309.4 L960.7,312.8 L966.7,316.3 L972.7,319.8 L978.7,323.3 L984.7,326.8 L990.7,330.3 L996.7,333.8 L1002.7,337.4 L1008.7,340.9 L1014.7,344.4 L1020.8,348.0 L1026.8,351.5 L1032.8,355.1 L1038.8,358.6 L1044.8,362.1 L1050.8,365.6 L1056.8,369.1 L1062.8,372.6 L1068.8,376.1 L1074.8,379.5 L1080.8,382.9 L1086.8,386.2 L1092.8,389.5 L1098.8,392.8 L1104.8,396.0 L1110.8,399.1 L1116.8,402.2 L1122.9,405.2 L1128.9,408.1 L1134.9,411.0 L1140.9,413.7 L1146.9,416.4 L1152.9,418.9 L1158.9,421.3 L1164.9,423.6 L1170.9,425.8 L1176.9,427.8 L1182.9,429.7 L1188.9,431.5 L1194.9,433.1 L1200.9,434.5 L1206.9,435.8 L1212.9,436.9 L1218.9,437.9 L1225.0,438.6 L1231.0,439.2 L1237.0,439.7 L1243.0,439.9 L1249.0,440.0 L1255.0,440.0 L1261.0,440.0 L1267.0,440.0 L1273.0,440.0 L1273.0,899.8 L1267.0,899.8 L1261.0,899.8 L1255.0,899.8 L1249.0,899.8 L1243.0,899.9 L1237.0,900.1 L1231.0,900.5 L1225.0,901.1 L1218.9,901.9 L1212.9,902.9 L1206.9,904.0 L1200.9,905.2 L1194.9,906.6 L1188.9,908.2 L1182.9,909.9 L1176.9,911.8 L1170.9,913.8 L1164.9,916.0 L1158.9,918.2 L1152.9,920.6 L1146.9,923.1 L1140.9,925.7 L1134.9,928.4 L1128.9,931.2 L1122.9,934.1 L1116.8,937.0 L1110.8,940.1 L1104.8,943.1 L1098.8,946.3 L1092.8,949.5 L1086.8,952.8 L1080.8,956.1 L1074.8,959.4 L1068.8,962.8 L1062.8,966.2 L1056.8,969.6 L1050.8,973.1 L1044.8,976.5 L1038.8,980.0 L1032.8,983.5 L1026.8,987.0 L1020.8,990.5 L1014.7,994.0 L1008.7,997.4 L1002.7,1000.9 L996.7,1004.4 L990.7,1007.9 L984.7,1011.4 L978.7,1014.8 L972.7,1018.3 L966.7,1021.7 L960.7,1025.1 L954.7,1028.5 L948.7,1031.9 L942.7,1035.3 L936.7,1038.6 L930.7,1041.9 L924.7,1045.2 L918.7,1048.4 L912.6,1051.6 L906.6,1054.8 L900.6,1057.9 L894.6,1061.0 L888.6,1064.0 L882.6,1066.9 L876.6,1069.8 L870.6,1072.6 L864.6,1075.4 L858.6,1078.1 L852.6,1080.7 L846.6,1083.1 L840.6,1085.6 L834.6,1087.9 L828.6,1090.1 L822.6,1092.1 L816.6,1094.1 L810.5,1096.0 L804.5,1097.7 L798.5,1099.3 L792.5,1100.7 L786.5,1102.0 L780.5,1103.2 L774.5,1104.2 L768.5,1105.1 L762.5,1105.8 L756.5,1106.4 L750.5,1106.8 L744.5,1107.1 L738.5,1107.2 L732.5,1107.1 L726.5,1106.9 L720.5,1106.6 L714.5,1106.1 L708.4,1105.4 L702.4,1104.6 L696.4,1103.6 L690.4,1102.5 L684.4,1101.2 L678.4,1099.8 L672.4,1098.3 L666.4,1096.6 L660.4,1094.9 L654.4,1093.0 L648.4,1091.0 L642.4,1088.8 L636.4,1086.6 L630.4,1084.3 L624.4,1081.9 L618.4,1079.4 L612.4,1076.8 L606.3,1074.2 L600.3,1071.5 L594.3,1068.7 L588.3,1065.8 L582.3,1062.9 L576.3,1059.9 L570.3,1056.9 L564.3,1053.9 L558.3,1050.8 L552.3,1047.7 L546.3,1044.5 L540.3,1041.3 L534.3,1038.1 L528.3,1034.8 L522.3,1031.5 L516.3,1028.2 L510.3,1024.9 L504.2,1021.6 L498.2,1018.2 L492.2,1014.9 L486.2,1011.5 L480.2,1008.1 L474.2,1004.7 L468.2,1001.3 L462.2,997.9 L456.2,994.5 L450.2,991.1 L444.2,987.7 L438.2,984.3 L432.2,980.9 L426.2,977.5 L420.2,974.2 L414.2,970.8 L408.2,967.5 L402.1,964.2 L396.1,960.9 L390.1,957.7 L384.1,954.5 L378.1,951.4 L372.1,948.3 L366.1,945.2 L360.1,942.2 L354.1,939.3 L348.1,936.5 L342.1,933.8 L336.1,931.1 L330.1,928.5 L324.1,926.1 L318.1,923.7 L312.1,921.5 L306.1,919.3 L300.0,917.3 L294.0,915.5 L288.0,913.7 L282.0,912.2 L276.0,910.7 L270.0,909.4 L264.0,908.3 L258.0,907.3 L252.0,906.5 Z" fill="#00ffb8"/>
<path d="M252.0,449.5 L258.0,448.6 L264.0,447.7 L270.0,446.5 L276.0,445.2 L282.0,443.8 L288.0,442.2 L294.0,440.5 L300.0,438.6 L306.1,436.6 L312.1,434.4 L318.1,432.2 L324.1,429.8 L330.1,427.3 L336.1,424.7 L342.1,422.1 L348.1,419.3 L354.1,416.4 L360.1,413.5 L366.1,410.5 L372.1,407.5 L378.1,404.4 L384.1,401.2 L390.1,398.0 L396.1,394.7 L402.1,391.4 L408.2,388.1 L414.2,384.8 L420.2,381.4 L426.2,378.0 L432.2,374.6 L438.2,371.2 L444.2,367.8 L450.2,364.4 L456.2,360.9 L462.2,357.5 L468.2,354.1 L474.2,350.7 L480.2,347.2 L486.2,343.8 L492.2,340.4 L498.2,337.0 L504.2,333.7 L510.3,330.3 L516.3,327.0 L522.3,323.6 L528.3,320.4 L534.3,317.1 L540.3,313.8 L546.3,310.6 L552.3,307.4 L558.3,304.3 L564.3,301.2 L570.3,298.1 L576.3,295.1 L582.3,292.1 L588.3,289.2 L594.3,286.3 L600.3,283.5 L606.3,280.7 L612.4,278.1 L618.4,275.5 L624.4,273.0 L630.4,270.5 L636.4,268.2 L642.4,266.0 L648.4,263.8 L654.4,261.8 L660.4,259.9 L666.4,258.1 L672.4,256.5 L678.4,254.9 L684.4,253.5 L690.4,252.3 L696.4,251.1 L702.4,250.2 L708.4,249.3 L714.5,248.7 L720.5,248.1 L726.5,247.8 L732.5,247.6 L738.5,247.5 L744.5,247.6 L750.5,247.9 L756.5,248.3 L762.5,248.9 L768.5,249.6 L774.5,250.5 L780.5,251.5 L786.5,252.7 L792.5,254.0 L798.5,255.5 L804.5,257.1 L810.5,258.8 L816.6,260.7 L822.6,262.6 L828.6,264.7 L834.6,267.0 L840.6,269.3 L846.6,271.7 L852.6,274.2 L858.6,276.8 L864.6,279.5 L870.6,282.2 L876.6,285.1 L882.6,288.0 L888.6,291.0 L894.6,294.0 L900.6,297.1 L906.6,300.2 L912.6,303.4 L918.7,306.6 L924.7,309.9 L930.7,313.2 L936.7,316.5 L942.7,319.8 L948.7,323.2 L954.7,326.6 L960.7,330.0 L966.7,333.5 L972.7,336.9 L978.7,340.4 L984.7,343.8 L990.7,347.3 L996.7,350.8 L1002.7,354.3 L1008.7,357.8 L1014.7,361.3 L1020.8,364.9 L1026.8,368.4 L1032.8,371.9 L1038.8,375.4 L1044.8,378.9 L1050.8,382.4 L1056.8,385.8 L1062.8,389.3 L1068.8,392.7 L1074.8,396.1 L1080.8,399.4 L1086.8,402.7 L1092.8,406.0 L1098.8,409.2 L1104.8,412.4 L1110.8,415.5 L1116.8,418.6 L1122.9,421.6 L1128.9,424.4 L1134.9,427.3 L1140.9,430.0 L1146.9,432.6 L1152.9,435.1 L1158.9,437.5 L1164.9,439.8 L1170.9,441.9 L1176.9,443.9 L1182.9,445.8 L1188.9,447.5 L1194.9,449.1 L1200.9,450.6 L1206.9,451.8 L1212.9,452.9 L1218.9,453.9 L1225.0,454.6 L1231.0,455.2 L1237.0,455.7 L1243.0,455.9 L1249.0,456.0 L1255.0,456.0 L1261.0,456.0 L1267.0,456.0 L1273.0,456.0 L1273.0,884.5 L1267.0,884.5 L1261.0,884.5 L1255.0,884.5 L1249.0,884.5 L1243.0,884.6 L1237.0,884.8 L1231.0,885.2 L1225.0,885.8 L1218.9,886.6 L1212.9,887.5 L1206.9,888.6 L1200.9,889.8 L1194.9,891.2 L1188.9,892.8 L1182.9,894.4 L1176.9,896.3 L1170.9,898.2 L1164.9,900.3 L1158.9,902.6 L1152.9,904.9 L1146.9,907.3 L1140.9,909.9 L1134.9,912.5 L1128.9,915.3 L1122.9,918.1 L1116.8,921.0 L1110.8,924.0 L1104.8,927.0 L1098.8,930.1 L1092.8,933.2 L1086.8,936.4 L1080.8,939.7 L1074.8,942.9 L1068.8,946.2 L1062.8,949.6 L1056.8,952.9 L1050.8,956.3 L1044.8,959.7 L1038.8,963.1 L1032.8,966.5 L1026.8,969.9 L1020.8,973.4 L1014.7,976.8 L1008.7,980.2 L1002.7,983.6 L996.7,987.1 L990.7,990.5 L984.7,993.9 L978.7,997.2 L972.7,1000.6 L966.7,1004.0 L960.7,1007.3 L954.7,1010.7 L948.7,1014.0 L942.7,1017.3 L936.7,1020.5 L930.7,1023.8 L924.7,1027.0 L918.7,1030.1 L912.6,1033.3 L906.6,1036.4 L900.6,1039.4 L894.6,1042.4 L888.6,1045.4 L882.6,1048.3 L876.6,1051.1 L870.6,1053.9 L864.6,1056.6 L858.6,1059.2 L852.6,1061.7 L846.6,1064.2 L840.6,1066.5 L834.6,1068.8 L828.6,1070.9 L822.6,1073.0 L816.6,1074.9 L810.5,1076.7 L804.5,1078.4 L798.5,1080.0 L792.5,1081.4 L786.5,1082.7 L780.5,1083.9 L774.5,1084.9 L768.5,1085.7 L762.5,1086.5 L756.5,1087.0 L750.5,1087.4 L744.5,1087.7 L738.5,1087.8 L732.5,1087.7 L726.5,1087.5 L720.5,1087.2 L714.5,1086.7 L708.4,1086.0 L702.4,1085.2 L696.4,1084.2 L690.4,1083.1 L684.4,1081.9 L678.4,1080.5 L672.4,1079.0 L666.4,1077.4 L660.4,1075.6 L654.4,1073.7 L648.4,1071.7 L642.4,1069.6 L636.4,1067.4 L630.4,1065.1 L624.4,1062.7 L618.4,1060.2 L612.4,1057.7 L606.3,1055.0 L600.3,1052.3 L594.3,1049.5 L588.3,1046.7 L582.3,1043.8 L576.3,1040.9 L570.3,1037.9 L564.3,1034.8 L558.3,1031.8 L552.3,1028.6 L546.3,1025.5 L540.3,1022.3 L534.3,1019.1 L528.3,1015.9 L522.3,1012.6 L516.3,1009.3 L510.3,1006.0 L504.2,1002.7 L498.2,999.4 L492.2,996.0 L486.2,992.7 L480.2,989.3 L474.2,985.9 L468.2,982.5 L462.2,979.1 L456.2,975.8 L450.2,972.4 L444.2,969.0 L438.2,965.6 L432.2,962.2 L426.2,958.9 L420.2,955.5 L414.2,952.2 L408.2,948.9 L402.1,945.6 L396.1,942.4 L390.1,939.2 L384.1,936.0 L378.1,932.9 L372.1,929.8 L366.1,926.8 L360.1,923.8 L354.1,920.9 L348.1,918.1 L342.1,915.4 L336.1,912.7 L330.1,910.2 L324.1,907.7 L318.1,905.4 L312.1,903.2 L306.1,901.0 L300.0,899.1 L294.0,897.2 L288.0,895.5 L282.0,893.9 L276.0,892.5 L270.0,891.2 L264.0,890.1 L258.0,889.1 L252.0,888.3 Z" fill="#00ff1e"/>
<path d="M252.0,472.1 L258.0,471.3 L264.0,470.4 L270.0,469.3 L276.0,468.1 L282.0,466.8 L288.0,465.3 L294.0,463.7 L300.0,461.9 L306.1,460.0 L312.1,458.0 L318.1,455.9 L324.1,453.7 L330.1,451.4 L336.1,449.0 L342.1,446.5 L348.1,443.9 L354.1,441.2 L360.1,438.5 L366.1,435.7 L372.1,432.9 L378.1,429.9 L384.1,427.0 L390.1,424.0 L396.1,421.0 L402.1,417.9 L408.2,414.8 L414.2,411.7 L420.2,408.5 L426.2,405.4 L432.2,402.2 L438.2,399.0 L444.2,395.8 L450.2,392.6 L456.2,389.4 L462.2,386.2 L468.2,383.0 L474.2,379.8 L480.2,376.6 L486.2,373.4 L492.2,370.3 L498.2,367.1 L504.2,363.9 L510.3,360.8 L516.3,357.7 L522.3,354.6 L528.3,351.5 L534.3,348.5 L540.3,345.4 L546.3,342.4 L552.3,339.5 L558.3,336.5 L564.3,333.6 L570.3,330.7 L576.3,327.9 L582.3,325.1 L588.3,322.4 L594.3,319.7 L600.3,317.1 L606.3,314.5 L612.4,312.0 L618.4,309.6 L624.4,307.3 L630.4,305.0 L636.4,302.8 L642.4,300.7 L648.4,298.7 L654.4,296.9 L660.4,295.1 L666.4,293.4 L672.4,291.9 L678.4,290.4 L684.4,289.1 L690.4,287.9 L696.4,286.9 L702.4,286.0 L708.4,285.2 L714.5,284.6 L720.5,284.1 L726.5,283.7 L732.5,283.6 L738.5,283.5 L744.5,283.6 L750.5,283.8 L756.5,284.2 L762.5,284.8 L768.5,285.5 L774.5,286.3 L780.5,287.2 L786.5,288.3 L792.5,289.6 L798.5,290.9 L804.5,292.4 L810.5,294.1 L816.6,295.8 L822.6,297.6 L828.6,299.6 L834.6,301.6 L840.6,303.8 L846.6,306.1 L852.6,308.4 L858.6,310.8 L864.6,313.3 L870.6,315.9 L876.6,318.6 L882.6,321.3 L888.6,324.0 L894.6,326.9 L900.6,329.7 L906.6,332.7 L912.6,335.6 L918.7,338.6 L924.7,341.7 L930.7,344.7 L936.7,347.8 L942.7,351.0 L948.7,354.1 L954.7,357.3 L960.7,360.5 L966.7,363.7 L972.7,366.9 L978.7,370.1 L984.7,373.4 L990.7,376.6 L996.7,379.9 L1002.7,383.2 L1008.7,386.4 L1014.7,389.7 L1020.8,393.0 L1026.8,396.3 L1032.8,399.5 L1038.8,402.8 L1044.8,406.1 L1050.8,409.3 L1056.8,412.5 L1062.8,415.7 L1068.8,418.9 L1074.8,422.1 L1080.8,425.2 L1086.8,428.3 L1092.8,431.4 L1098.8,434.4 L1104.8,437.3 L1110.8,440.3 L1116.8,443.1 L1122.9,445.9 L1128.9,448.6 L1134.9,451.2 L1140.9,453.7 L1146.9,456.2 L1152.9,458.5 L1158.9,460.7 L1164.9,462.8 L1170.9,464.9 L1176.9,466.7 L1182.9,468.5 L1188.9,470.1 L1194.9,471.6 L1200.9,472.9 L1206.9,474.1 L1212.9,475.1 L1218.9,476.0 L1225.0,476.7 L1231.0,477.3 L1237.0,477.7 L1243.0,477.9 L1249.0,478.0 L1255.0,478.0 L1261.0,478.0 L1267.0,478.0 L1273.0,478.0 L1273.0,861.4 L1267.0,861.4 L1261.0,861.4 L1255.0,861.4 L1249.0,861.4 L1243.0,861.5 L1237.0,861.7 L1231.0,862.1 L1225.0,862.6 L1218.9,863.3 L1212.9,864.2 L1206.9,865.2 L1200.9,866.4 L1194.9,867.7 L1188.9,869.1 L1182.9,870.7 L1176.9,872.4 L1170.9,874.3 L1164.9,876.2 L1158.9,878.3 L1152.9,880.5 L1146.9,882.8 L1140.9,885.2 L1134.9,887.6 L1128.9,890.2 L1122.9,892.8 L1116.8,895.6 L1110.8,898.3 L1104.8,901.2 L1098.8,904.1 L1092.8,907.0 L1086.8,910.0 L1080.8,913.0 L1074.8,916.1 L1068.8,919.2 L1062.8,922.3 L1056.8,925.5 L1050.8,928.6 L1044.8,931.8 L1038.8,935.0 L1032.8,938.2 L1026.8,941.4 L1020.8,944.6 L1014.7,947.8 L1008.7,951.0 L1002.7,954.2 L996.7,957.4 L990.7,960.6 L984.7,963.8 L978.7,966.9 L972.7,970.1 L966.7,973.2 L960.7,976.4 L954.7,979.5 L948.7,982.6 L942.7,985.7 L936.7,988.7 L930.7,991.8 L924.7,994.8 L918.7,997.7 L912.6,1000.7 L906.6,1003.6 L900.6,1006.4 L894.6,1009.2 L888.6,1012.0 L882.6,1014.7 L876.6,1017.4 L870.6,1020.0 L864.6,1022.5 L858.6,1024.9 L852.6,1027.3 L846.6,1029.6 L840.6,1031.8 L834.6,1033.9 L828.6,1035.9 L822.6,1037.8 L816.6,1039.7 L810.5,1041.4 L804.5,1042.9 L798.5,1044.4 L792.5,1045.7 L786.5,1046.9 L780.5,1048.0 L774.5,1049.0 L768.5,1049.8 L762.5,1050.4 L756.5,1051.0 L750.5,1051.4 L744.5,1051.6 L738.5,1051.7 L732.5,1051.6 L726.5,1051.5 L720.5,1051.1 L714.5,1050.6 L708.4,1050.0 L702.4,1049.3 L696.4,1048.4 L690.4,1047.3 L684.4,1046.2 L678.4,1044.9 L672.4,1043.5 L666.4,1041.9 L660.4,1040.3 L654.4,1038.6 L648.4,1036.7 L642.4,1034.7 L636.4,1032.7 L630.4,1030.5 L624.4,1028.3 L618.4,1026.0 L612.4,1023.6 L606.3,1021.1 L600.3,1018.6 L594.3,1016.0 L588.3,1013.4 L582.3,1010.7 L576.3,1008.0 L570.3,1005.2 L564.3,1002.3 L558.3,999.5 L552.3,996.6 L546.3,993.6 L540.3,990.7 L534.3,987.7 L528.3,984.7 L522.3,981.6 L516.3,978.6 L510.3,975.5 L504.2,972.4 L498.2,969.3 L492.2,966.2 L486.2,963.0 L480.2,959.9 L474.2,956.8 L468.2,953.6 L462.2,950.5 L456.2,947.3 L450.2,944.1 L444.2,941.0 L438.2,937.8 L432.2,934.7 L426.2,931.6 L420.2,928.5 L414.2,925.4 L408.2,922.3 L402.1,919.2 L396.1,916.2 L390.1,913.2 L384.1,910.2 L378.1,907.3 L372.1,904.5 L366.1,901.7 L360.1,898.9 L354.1,896.2 L348.1,893.6 L342.1,891.0 L336.1,888.6 L330.1,886.2 L324.1,883.9 L318.1,881.7 L312.1,879.6 L306.1,877.7 L300.0,875.8 L294.0,874.1 L288.0,872.5 L282.0,871.0 L276.0,869.7 L270.0,868.5 L264.0,867.5 L258.0,866.6 L252.0,865.8 Z" fill="#80ff00"/>
<path d="M252.0,516.8 L258.0,516.1 L264.0,515.3 L270.0,514.4 L276.0,513.4 L282.0,512.2 L288.0,510.9 L294.0,509.5 L300.0,508.0 L306.1,506.4 L312.1,504.7 L318.1,502.9 L324.1,501.0 L330.1,499.0 L336.1,496.9 L342.1,494.7 L348.1,492.5 L354.1,490.2 L360.1,487.9 L366.1,485.5 L372.1,483.0 L378.1,480.5 L384.1,478.0 L390.1,475.4 L396.1,472.8 L402.1,470.1 L408.2,467.4 L414.2,464.8 L420.2,462.0 L426.2,459.3 L432.2,456.6 L438.2,453.8 L444.2,451.1 L450.2,448.3 L456.2,445.6 L462.2,442.8 L468.2,440.1 L474.2,437.3 L480.2,434.6 L486.2,431.8 L492.2,429.1 L498.2,426.4 L504.2,423.7 L510.3,421.0 L516.3,418.3 L522.3,415.6 L528.3,413.0 L534.3,410.3 L540.3,407.7 L546.3,405.1 L552.3,402.6 L558.3,400.1 L564.3,397.5 L570.3,395.1 L576.3,392.6 L582.3,390.2 L588.3,387.9 L594.3,385.6 L600.3,383.3 L606.3,381.1 L612.4,379.0 L618.4,376.9 L624.4,374.9 L630.4,372.9 L636.4,371.1 L642.4,369.3 L648.4,367.5 L654.4,365.9 L660.4,364.4 L666.4,362.9 L672.4,361.6 L678.4,360.4 L684.4,359.2 L690.4,358.2 L696.4,357.3 L702.4,356.5 L708.4,355.9 L714.5,355.3 L720.5,354.9 L726.5,354.6 L732.5,354.4 L738.5,354.4 L744.5,354.5 L750.5,354.7 L756.5,355.0 L762.5,355.5 L768.5,356.1 L774.5,356.8 L780.5,357.6 L786.5,358.6 L792.5,359.6 L798.5,360.8 L804.5,362.1 L810.5,363.5 L816.6,365.0 L822.6,366.6 L828.6,368.3 L834.6,370.1 L840.6,371.9 L846.6,373.9 L852.6,375.9 L858.6,378.0 L864.6,380.2 L870.6,382.4 L876.6,384.7 L882.6,387.0 L888.6,389.4 L894.6,391.9 L900.6,394.4 L906.6,396.9 L912.6,399.5 L918.7,402.0 L924.7,404.7 L930.7,407.3 L936.7,410.0 L942.7,412.7 L948.7,415.4 L954.7,418.2 L960.7,420.9 L966.7,423.7 L972.7,426.5 L978.7,429.3 L984.7,432.1 L990.7,434.9 L996.7,437.7 L1002.7,440.5 L1008.7,443.4 L1014.7,446.2 L1020.8,449.0 L1026.8,451.9 L1032.8,454.7 L1038.8,457.5 L1044.8,460.3 L1050.8,463.1 L1056.8,465.9 L1062.8,468.7 L1068.8,471.4 L1074.8,474.2 L1080.8,476.9 L1086.8,479.6 L1092.8,482.2 L1098.8,484.8 L1104.8,487.4 L1110.8,489.9 L1116.8,492.3 L1122.9,494.7 L1128.9,497.1 L1134.9,499.3 L1140.9,501.5 L1146.9,503.6 L1152.9,505.6 L1158.9,507.6 L1164.9,509.4 L1170.9,511.1 L1176.9,512.8 L1182.9,514.3 L1188.9,515.7 L1194.9,517.0 L1200.9,518.1 L1206.9,519.1 L1212.9,520.0 L1218.9,520.8 L1225.0,521.4 L1231.0,521.9 L1237.0,522.2 L1243.0,522.4 L1249.0,522.5 L1255.0,522.5 L1261.0,522.5 L1267.0,522.5 L1273.0,522.5 L1273.0,816.6 L1267.0,816.6 L1261.0,816.6 L1255.0,816.6 L1249.0,816.6 L1243.0,816.7 L1237.0,816.9 L1231.0,817.2 L1225.0,817.7 L1218.9,818.3 L1212.9,819.1 L1206.9,820.0 L1200.9,821.0 L1194.9,822.2 L1188.9,823.5 L1182.9,824.9 L1176.9,826.4 L1170.9,828.0 L1164.9,829.8 L1158.9,831.6 L1152.9,833.6 L1146.9,835.6 L1140.9,837.7 L1134.9,839.9 L1128.9,842.2 L1122.9,844.5 L1116.8,846.9 L1110.8,849.4 L1104.8,851.9 L1098.8,854.5 L1092.8,857.1 L1086.8,859.8 L1080.8,862.5 L1074.8,865.2 L1068.8,868.0 L1062.8,870.7 L1056.8,873.5 L1050.8,876.3 L1044.8,879.2 L1038.8,882.0 L1032.8,884.8 L1026.8,887.7 L1020.8,890.5 L1014.7,893.4 L1008.7,896.2 L1002.7,899.1 L996.7,901.9 L990.7,904.7 L984.7,907.6 L978.7,910.4 L972.7,913.2 L966.7,916.0 L960.7,918.8 L954.7,921.5 L948.7,924.3 L942.7,927.0 L936.7,929.7 L930.7,932.4 L924.7,935.1 L918.7,937.8 L912.6,940.4 L906.6,942.9 L900.6,945.5 L894.6,948.0 L888.6,950.4 L882.6,952.8 L876.6,955.2 L870.6,957.5 L864.6,959.7 L858.6,961.9 L852.6,964.0 L846.6,966.1 L840.6,968.0 L834.6,969.9 L828.6,971.7 L822.6,973.4 L816.6,975.0 L810.5,976.5 L804.5,977.9 L798.5,979.2 L792.5,980.4 L786.5,981.5 L780.5,982.4 L774.5,983.3 L768.5,984.0 L762.5,984.6 L756.5,985.1 L750.5,985.4 L744.5,985.6 L738.5,985.7 L732.5,985.7 L726.5,985.5 L720.5,985.2 L714.5,984.8 L708.4,984.2 L702.4,983.5 L696.4,982.7 L690.4,981.8 L684.4,980.8 L678.4,979.7 L672.4,978.4 L666.4,977.0 L660.4,975.6 L654.4,974.0 L648.4,972.4 L642.4,970.6 L636.4,968.8 L630.4,966.9 L624.4,964.9 L618.4,962.9 L612.4,960.8 L606.3,958.6 L600.3,956.3 L594.3,954.0 L588.3,951.7 L582.3,949.3 L576.3,946.9 L570.3,944.4 L564.3,941.9 L558.3,939.3 L552.3,936.8 L546.3,934.2 L540.3,931.5 L534.3,928.9 L528.3,926.2 L522.3,923.5 L516.3,920.8 L510.3,918.1 L504.2,915.3 L498.2,912.6 L492.2,909.8 L486.2,907.0 L480.2,904.2 L474.2,901.5 L468.2,898.7 L462.2,895.9 L456.2,893.1 L450.2,890.3 L444.2,887.5 L438.2,884.7 L432.2,881.9 L426.2,879.1 L420.2,876.3 L414.2,873.6 L408.2,870.9 L402.1,868.1 L396.1,865.5 L390.1,862.8 L384.1,860.2 L378.1,857.6 L372.1,855.1 L366.1,852.6 L360.1,850.1 L354.1,847.7 L348.1,845.4 L342.1,843.1 L336.1,840.9 L330.1,838.8 L324.1,836.8 L318.1,834.9 L312.1,833.0 L306.1,831.3 L300.0,829.6 L294.0,828.1 L288.0,826.7 L282.0,825.4 L276.0,824.2 L270.0,823.1 L264.0,822.2 L258.0,821.4 L252.0,820.8 Z" fill="#ffe600"/>
<path d="M252.0,423.9 L258.0,423.1 L264.0,422.1 L270.0,420.9 L276.0,419.6 L282.0,418.2 L288.0,416.5 L294.0,414.8 L300.0,412.8 L306.1,410.8 L312.1,408.6 L318.1,406.3 L324.1,403.9 L330.1,401.4 L336.1,398.7 L342.1,396.0 L348.1,393.2 L354.1,390.3 L360.1,387.3 L366.1,384.2 L372.1,381.1 L378.1,377.9 L384.1,374.7 L390.1,371.4 L396.1,368.1 L402.1,364.8 L408.2,361.4 L414.2,358.0 L420.2,354.5 L426.2,351.1 L432.2,347.6 L438.2,344.1 L444.2,340.6 L450.2,337.2 L456.2,333.7 L462.2,330.2 L468.2,326.7 L474.2,323.2 L480.2,319.7 L486.2,316.2 L492.2,312.8 L498.2,309.3 L504.2,305.9 L510.3,302.4 L516.3,299.0 L522.3,295.6 L528.3,292.3 L534.3,288.9 L540.3,285.6 L546.3,282.3 L552.3,279.1 L558.3,275.9 L564.3,272.7 L570.3,269.6 L576.3,266.5 L582.3,263.4 L588.3,260.5 L594.3,257.5 L600.3,254.7 L606.3,251.9 L612.4,249.1 L618.4,246.5 L624.4,243.9 L630.4,241.5 L636.4,239.1 L642.4,236.8 L648.4,234.6 L654.4,232.6 L660.4,230.6 L666.4,228.8 L672.4,227.1 L678.4,225.6 L684.4,224.1 L690.4,222.8 L696.4,221.7 L702.4,220.7 L708.4,219.9 L714.5,219.2 L720.5,218.6 L726.5,218.3 L732.5,218.1 L738.5,218.0 L744.5,218.1 L750.5,218.4 L756.5,218.8 L762.5,219.4 L768.5,220.1 L774.5,221.0 L780.5,222.1 L786.5,223.3 L792.5,224.6 L798.5,226.1 L804.5,227.7 L810.5,229.5 L816.6,231.4 L822.6,233.4 L828.6,235.5 L834.6,237.7 L840.6,240.1 L846.6,242.5 L852.6,245.1 L858.6,247.7 L864.6,250.5 L870.6,253.3 L876.6,256.1 L882.6,259.1 L888.6,262.1 L894.6,265.2 L900.6,268.3 L906.6,271.5 L912.6,274.7 L918.7,277.9 L924.7,281.2 L930.7,284.6 L936.7,287.9 L942.7,291.3 L948.7,294.8 L954.7,298.2 L960.7,301.7 L966.7,305.2 L972.7,308.6 L978.7,312.2 L984.7,315.7 L990.7,319.2 L996.7,322.8 L1002.7,326.3 L1008.7,329.9 L1014.7,333.4 L1020.8,337.0 L1026.8,340.6 L1032.8,344.1 L1038.8,347.7 L1044.8,351.2 L1050.8,354.7 L1056.8,358.2 L1062.8,361.7 L1068.8,365.2 L1074.8,368.6 L1080.8,372.0 L1086.8,375.4 L1092.8,378.7 L1098.8,382.0 L1104.8,385.2 L1110.8,388.4 L1116.8,391.5 L1122.9,394.5 L1128.9,397.4 L1134.9,400.3 L1140.9,403.0 L1146.9,405.7 L1152.9,408.2 L1158.9,410.6 L1164.9,412.9 L1170.9,415.1 L1176.9,417.2 L1182.9,419.1 L1188.9,420.8 L1194.9,422.4 L1200.9,423.9 L1206.9,425.2 L1212.9,426.3 L1218.9,427.2 L1225.0,428.0 L1231.0,428.6 L1237.0,429.1 L1243.0,429.3 L1249.0,429.4 L1255.0,429.4 L1261.0,429.4 L1267.0,429.4 L1273.0,429.4 " fill="none" stroke="#000" stroke-width="3" stroke-opacity="0.62"/>
<path d="M252.0,914.4 L258.0,915.2 L264.0,916.2 L270.0,917.3 L276.0,918.7 L282.0,920.1 L288.0,921.7 L294.0,923.5 L300.0,925.4 L306.1,927.5 L312.1,929.6 L318.1,931.9 L324.1,934.3 L330.1,936.9 L336.1,939.5 L342.1,942.2 L348.1,945.0 L354.1,947.9 L360.1,950.9 L366.1,954.0 L372.1,957.1 L378.1,960.2 L384.1,963.4 L390.1,966.7 L396.1,970.0 L402.1,973.4 L408.2,976.7 L414.2,980.1 L420.2,983.6 L426.2,987.0 L432.2,990.5 L438.2,993.9 L444.2,997.4 L450.2,1000.9 L456.2,1004.4 L462.2,1007.9 L468.2,1011.3 L474.2,1014.8 L480.2,1018.3 L486.2,1021.8 L492.2,1025.2 L498.2,1028.7 L504.2,1032.1 L510.3,1035.5 L516.3,1038.9 L522.3,1042.3 L528.3,1045.6 L534.3,1049.0 L540.3,1052.3 L546.3,1055.6 L552.3,1058.8 L558.3,1062.0 L564.3,1065.2 L570.3,1068.3 L576.3,1071.4 L582.3,1074.4 L588.3,1077.4 L594.3,1080.3 L600.3,1083.2 L606.3,1086.0 L612.4,1088.7 L618.4,1091.3 L624.4,1093.9 L630.4,1096.3 L636.4,1098.7 L642.4,1101.0 L648.4,1103.1 L654.4,1105.2 L660.4,1107.1 L666.4,1108.9 L672.4,1110.6 L678.4,1112.2 L684.4,1113.6 L690.4,1114.9 L696.4,1116.0 L702.4,1117.0 L708.4,1117.8 L714.5,1118.5 L720.5,1119.1 L726.5,1119.4 L732.5,1119.6 L738.5,1119.7 L744.5,1119.6 L750.5,1119.3 L756.5,1118.9 L762.5,1118.3 L768.5,1117.6 L774.5,1116.7 L780.5,1115.7 L786.5,1114.5 L792.5,1113.1 L798.5,1111.7 L804.5,1110.0 L810.5,1108.3 L816.6,1106.4 L822.6,1104.4 L828.6,1102.3 L834.6,1100.1 L840.6,1097.8 L846.6,1095.4 L852.6,1092.8 L858.6,1090.2 L864.6,1087.5 L870.6,1084.8 L876.6,1081.9 L882.6,1079.0 L888.6,1076.0 L894.6,1073.0 L900.6,1069.9 L906.6,1066.8 L912.6,1063.6 L918.7,1060.3 L924.7,1057.1 L930.7,1053.8 L936.7,1050.4 L942.7,1047.1 L948.7,1043.7 L954.7,1040.3 L960.7,1036.9 L966.7,1033.4 L972.7,1030.0 L978.7,1026.5 L984.7,1023.0 L990.7,1019.5 L996.7,1016.0 L1002.7,1012.5 L1008.7,1008.9 L1014.7,1005.4 L1020.8,1001.9 L1026.8,998.4 L1032.8,994.8 L1038.8,991.3 L1044.8,987.8 L1050.8,984.3 L1056.8,980.9 L1062.8,977.4 L1068.8,974.0 L1074.8,970.6 L1080.8,967.2 L1086.8,963.9 L1092.8,960.6 L1098.8,957.3 L1104.8,954.1 L1110.8,951.0 L1116.8,948.0 L1122.9,945.0 L1128.9,942.1 L1134.9,939.3 L1140.9,936.5 L1146.9,933.9 L1152.9,931.4 L1158.9,929.0 L1164.9,926.7 L1170.9,924.5 L1176.9,922.5 L1182.9,920.6 L1188.9,918.9 L1194.9,917.3 L1200.9,915.9 L1206.9,914.6 L1212.9,913.5 L1218.9,912.5 L1225.0,911.8 L1231.0,911.2 L1237.0,910.7 L1243.0,910.5 L1249.0,910.4 L1255.0,910.4 L1261.0,910.4 L1267.0,910.4 L1273.0,910.4 " fill="none" stroke="#000" stroke-width="3" stroke-opacity="0.62"/>
<path d="M252.0,434.9 L258.0,434.1 L264.0,433.1 L270.0,432.0 L276.0,430.6 L282.0,429.2 L288.0,427.6 L294.0,425.8 L300.0,423.9 L306.1,421.8 L312.1,419.7 L318.1,417.4 L324.1,414.9 L330.1,412.4 L336.1,409.8 L342.1,407.1 L348.1,404.2 L354.1,401.4 L360.1,398.4 L366.1,395.3 L372.1,392.2 L378.1,389.0 L384.1,385.8 L390.1,382.6 L396.1,379.3 L402.1,375.9 L408.2,372.5 L414.2,369.1 L420.2,365.7 L426.2,362.3 L432.2,358.8 L438.2,355.3 L444.2,351.9 L450.2,348.4 L456.2,344.9 L462.2,341.4 L468.2,337.9 L474.2,334.4 L480.2,331.0 L486.2,327.5 L492.2,324.0 L498.2,320.6 L504.2,317.1 L510.3,313.7 L516.3,310.3 L522.3,307.0 L528.3,303.6 L534.3,300.3 L540.3,297.0 L546.3,293.7 L552.3,290.4 L558.3,287.2 L564.3,284.1 L570.3,280.9 L576.3,277.9 L582.3,274.8 L588.3,271.8 L594.3,268.9 L600.3,266.1 L606.3,263.3 L612.4,260.6 L618.4,257.9 L624.4,255.4 L630.4,252.9 L636.4,250.5 L642.4,248.3 L648.4,246.1 L654.4,244.0 L660.4,242.1 L666.4,240.3 L672.4,238.6 L678.4,237.0 L684.4,235.6 L690.4,234.3 L696.4,233.2 L702.4,232.2 L708.4,231.4 L714.5,230.7 L720.5,230.1 L726.5,229.8 L732.5,229.6 L738.5,229.5 L744.5,229.6 L750.5,229.9 L756.5,230.3 L762.5,230.9 L768.5,231.6 L774.5,232.5 L780.5,233.6 L786.5,234.8 L792.5,236.1 L798.5,237.6 L804.5,239.2 L810.5,240.9 L816.6,242.8 L822.6,244.8 L828.6,246.9 L834.6,249.2 L840.6,251.5 L846.6,253.9 L852.6,256.5 L858.6,259.1 L864.6,261.8 L870.6,264.6 L876.6,267.5 L882.6,270.4 L888.6,273.4 L894.6,276.5 L900.6,279.6 L906.6,282.7 L912.6,285.9 L918.7,289.2 L924.7,292.5 L930.7,295.8 L936.7,299.2 L942.7,302.5 L948.7,305.9 L954.7,309.4 L960.7,312.8 L966.7,316.3 L972.7,319.8 L978.7,323.3 L984.7,326.8 L990.7,330.3 L996.7,333.8 L1002.7,337.4 L1008.7,340.9 L1014.7,344.4 L1020.8,348.0 L1026.8,351.5 L1032.8,355.1 L1038.8,358.6 L1044.8,362.1 L1050.8,365.6 L1056.8,369.1 L1062.8,372.6 L1068.8,376.1 L1074.8,379.5 L1080.8,382.9 L1086.8,386.2 L1092.8,389.5 L1098.8,392.8 L1104.8,396.0 L1110.8,399.1 L1116.8,402.2 L1122.9,405.2 L1128.9,408.1 L1134.9,411.0 L1140.9,413.7 L1146.9,416.4 L1152.9,418.9 L1158.9,421.3 L1164.9,423.6 L1170.9,425.8 L1176.9,427.8 L1182.9,429.7 L1188.9,431.5 L1194.9,433.1 L1200.9,434.5 L1206.9,435.8 L1212.9,436.9 L1218.9,437.9 L1225.0,438.6 L1231.0,439.2 L1237.0,439.7 L1243.0,439.9 L1249.0,440.0 L1255.0,440.0 L1261.0,440.0 L1267.0,440.0 L1273.0,440.0 " fill="none" stroke="#000" stroke-width="3" stroke-opacity="0.62"/>
<path d="M252.0,906.5 L258.0,907.3 L264.0,908.3 L270.0,909.4 L276.0,910.7 L282.0,912.2 L288.0,913.7 L294.0,915.5 L300.0,917.3 L306.1,919.3 L312.1,921.5 L318.1,923.7 L324.1,926.1 L330.1,928.5 L336.1,931.1 L342.1,933.8 L348.1,936.5 L354.1,939.3 L360.1,942.2 L366.1,945.2 L372.1,948.3 L378.1,951.4 L384.1,954.5 L390.1,957.7 L396.1,960.9 L402.1,964.2 L408.2,967.5 L414.2,970.8 L420.2,974.2 L426.2,977.5 L432.2,980.9 L438.2,984.3 L444.2,987.7 L450.2,991.1 L456.2,994.5 L462.2,997.9 L468.2,1001.3 L474.2,1004.7 L480.2,1008.1 L486.2,1011.5 L492.2,1014.9 L498.2,1018.2 L504.2,1021.6 L510.3,1024.9 L516.3,1028.2 L522.3,1031.5 L528.3,1034.8 L534.3,1038.1 L540.3,1041.3 L546.3,1044.5 L552.3,1047.7 L558.3,1050.8 L564.3,1053.9 L570.3,1056.9 L576.3,1059.9 L582.3,1062.9 L588.3,1065.8 L594.3,1068.7 L600.3,1071.5 L606.3,1074.2 L612.4,1076.8 L618.4,1079.4 L624.4,1081.9 L630.4,1084.3 L636.4,1086.6 L642.4,1088.8 L648.4,1091.0 L654.4,1093.0 L660.4,1094.9 L666.4,1096.6 L672.4,1098.3 L678.4,1099.8 L684.4,1101.2 L690.4,1102.5 L696.4,1103.6 L702.4,1104.6 L708.4,1105.4 L714.5,1106.1 L720.5,1106.6 L726.5,1106.9 L732.5,1107.1 L738.5,1107.2 L744.5,1107.1 L750.5,1106.8 L756.5,1106.4 L762.5,1105.8 L768.5,1105.1 L774.5,1104.2 L780.5,1103.2 L786.5,1102.0 L792.5,1100.7 L798.5,1099.3 L804.5,1097.7 L810.5,1096.0 L816.6,1094.1 L822.6,1092.1 L828.6,1090.1 L834.6,1087.9 L840.6,1085.6 L846.6,1083.1 L852.6,1080.7 L858.6,1078.1 L864.6,1075.4 L870.6,1072.6 L876.6,1069.8 L882.6,1066.9 L888.6,1064.0 L894.6,1061.0 L900.6,1057.9 L906.6,1054.8 L912.6,1051.6 L918.7,1048.4 L924.7,1045.2 L930.7,1041.9 L936.7,1038.6 L942.7,1035.3 L948.7,1031.9 L954.7,1028.5 L960.7,1025.1 L966.7,1021.7 L972.7,1018.3 L978.7,1014.8 L984.7,1011.4 L990.7,1007.9 L996.7,1004.4 L1002.7,1000.9 L1008.7,997.4 L1014.7,994.0 L1020.8,990.5 L1026.8,987.0 L1032.8,983.5 L1038.8,980.0 L1044.8,976.5 L1050.8,973.1 L1056.8,969.6 L1062.8,966.2 L1068.8,962.8 L1074.8,959.4 L1080.8,956.1 L1086.8,952.8 L1092.8,949.5 L1098.8,946.3 L1104.8,943.1 L1110.8,940.1 L1116.8,937.0 L1122.9,934.1 L1128.9,931.2 L1134.9,928.4 L1140.9,925.7 L1146.9,923.1 L1152.9,920.6 L1158.9,918.2 L1164.9,916.0 L1170.9,913.8 L1176.9,911.8 L1182.9,909.9 L1188.9,908.2 L1194.9,906.6 L1200.9,905.2 L1206.9,904.0 L1212.9,902.9 L1218.9,901.9 L1225.0,901.1 L1231.0,900.5 L1237.0,900.1 L1243.0,899.9 L1249.0,899.8 L1255.0,899.8 L1261.0,899.8 L1267.0,899.8 L1273.0,899.8 " fill="none" stroke="#000" stroke-width="3" stroke-opacity="0.62"/>
<path d="M252.0,449.5 L258.0,448.6 L264.0,447.7 L270.0,446.5 L276.0,445.2 L282.0,443.8 L288.0,442.2 L294.0,440.5 L300.0,438.6 L306.1,436.6 L312.1,434.4 L318.1,432.2 L324.1,429.8 L330.1,427.3 L336.1,424.7 L342.1,422.1 L348.1,419.3 L354.1,416.4 L360.1,413.5 L366.1,410.5 L372.1,407.5 L378.1,404.4 L384.1,401.2 L390.1,398.0 L396.1,394.7 L402.1,391.4 L408.2,388.1 L414.2,384.8 L420.2,381.4 L426.2,378.0 L432.2,374.6 L438.2,371.2 L444.2,367.8 L450.2,364.4 L456.2,360.9 L462.2,357.5 L468.2,354.1 L474.2,350.7 L480.2,347.2 L486.2,343.8 L492.2,340.4 L498.2,337.0 L504.2,333.7 L510.3,330.3 L516.3,327.0 L522.3,323.6 L528.3,320.4 L534.3,317.1 L540.3,313.8 L546.3,310.6 L552.3,307.4 L558.3,304.3 L564.3,301.2 L570.3,298.1 L576.3,295.1 L582.3,292.1 L588.3,289.2 L594.3,286.3 L600.3,283.5 L606.3,280.7 L612.4,278.1 L618.4,275.5 L624.4,273.0 L630.4,270.5 L636.4,268.2 L642.4,266.0 L648.4,263.8 L654.4,261.8 L660.4,259.9 L666.4,258.1 L672.4,256.5 L678.4,254.9 L684.4,253.5 L690.4,252.3 L696.4,251.1 L702.4,250.2 L708.4,249.3 L714.5,248.7 L720.5,248.1 L726.5,247.8 L732.5,247.6 L738.5,247.5 L744.5,247.6 L750.5,247.9 L756.5,248.3 L762.5,248.9 L768.5,249.6 L774.5,250.5 L780.5,251.5 L786.5,252.7 L792.5,254.0 L798.5,255.5 L804.5,257.1 L810.5,258.8 L816.6,260.7 L822.6,262.6 L828.6,264.7 L834.6,267.0 L840.6,269.3 L846.6,271.7 L852.6,274.2 L858.6,276.8 L864.6,279.5 L870.6,282.2 L876.6,285.1 L882.6,288.0 L888.6,291.0 L894.6,294.0 L900.6,297.1 L906.6,300.2 L912.6,303.4 L918.7,306.6 L924.7,309.9 L930.7,313.2 L936.7,316.5 L942.7,319.8 L948.7,323.2 L954.7,326.6 L960.7,330.0 L966.7,333.5 L972.7,336.9 L978.7,340.4 L984.7,343.8 L990.7,347.3 L996.7,350.8 L1002.7,354.3 L1008.7,357.8 L1014.7,361.3 L1020.8,364.9 L1026.8,368.4 L1032.8,371.9 L1038.8,375.4 L1044.8,378.9 L1050.8,382.4 L1056.8,385.8 L1062.8,389.3 L1068.8,392.7 L1074.8,396.1 L1080.8,399.4 L1086.8,402.7 L1092.8,406.0 L1098.8,409.2 L1104.8,412.4 L1110.8,415.5 L1116.8,418.6 L1122.9,421.6 L1128.9,424.4 L1134.9,427.3 L1140.9,430.0 L1146.9,432.6 L1152.9,435.1 L1158.9,437.5 L1164.9,439.8 L1170.9,441.9 L1176.9,443.9 L1182.9,445.8 L1188.9,447.5 L1194.9,449.1 L1200.9,450.6 L1206.9,451.8 L1212.9,452.9 L1218.9,453.9 L1225.0,454.6 L1231.0,455.2 L1237.0,455.7 L1243.0,455.9 L1249.0,456.0 L1255.0,456.0 L1261.0,456.0 L1267.0,456.0 L1273.0,456.0 " fill="none" stroke="#000" stroke-width="3" stroke-opacity="0.62"/>
<path d="M252.0,888.3 L258.0,889.1 L264.0,890.1 L270.0,891.2 L276.0,892.5 L282.0,893.9 L288.0,895.5 L294.0,897.2 L300.0,899.1 L306.1,901.0 L312.1,903.2 L318.1,905.4 L324.1,907.7 L330.1,910.2 L336.1,912.7 L342.1,915.4 L348.1,918.1 L354.1,920.9 L360.1,923.8 L366.1,926.8 L372.1,929.8 L378.1,932.9 L384.1,936.0 L390.1,939.2 L396.1,942.4 L402.1,945.6 L408.2,948.9 L414.2,952.2 L420.2,955.5 L426.2,958.9 L432.2,962.2 L438.2,965.6 L444.2,969.0 L450.2,972.4 L456.2,975.8 L462.2,979.1 L468.2,982.5 L474.2,985.9 L480.2,989.3 L486.2,992.7 L492.2,996.0 L498.2,999.4 L504.2,1002.7 L510.3,1006.0 L516.3,1009.3 L522.3,1012.6 L528.3,1015.9 L534.3,1019.1 L540.3,1022.3 L546.3,1025.5 L552.3,1028.6 L558.3,1031.8 L564.3,1034.8 L570.3,1037.9 L576.3,1040.9 L582.3,1043.8 L588.3,1046.7 L594.3,1049.5 L600.3,1052.3 L606.3,1055.0 L612.4,1057.7 L618.4,1060.2 L624.4,1062.7 L630.4,1065.1 L636.4,1067.4 L642.4,1069.6 L648.4,1071.7 L654.4,1073.7 L660.4,1075.6 L666.4,1077.4 L672.4,1079.0 L678.4,1080.5 L684.4,1081.9 L690.4,1083.1 L696.4,1084.2 L702.4,1085.2 L708.4,1086.0 L714.5,1086.7 L720.5,1087.2 L726.5,1087.5 L732.5,1087.7 L738.5,1087.8 L744.5,1087.7 L750.5,1087.4 L756.5,1087.0 L762.5,1086.5 L768.5,1085.7 L774.5,1084.9 L780.5,1083.9 L786.5,1082.7 L792.5,1081.4 L798.5,1080.0 L804.5,1078.4 L810.5,1076.7 L816.6,1074.9 L822.6,1073.0 L828.6,1070.9 L834.6,1068.8 L840.6,1066.5 L846.6,1064.2 L852.6,1061.7 L858.6,1059.2 L864.6,1056.6 L870.6,1053.9 L876.6,1051.1 L882.6,1048.3 L888.6,1045.4 L894.6,1042.4 L900.6,1039.4 L906.6,1036.4 L912.6,1033.3 L918.7,1030.1 L924.7,1027.0 L930.7,1023.8 L936.7,1020.5 L942.7,1017.3 L948.7,1014.0 L954.7,1010.7 L960.7,1007.3 L966.7,1004.0 L972.7,1000.6 L978.7,997.2 L984.7,993.9 L990.7,990.5 L996.7,987.1 L1002.7,983.6 L1008.7,980.2 L1014.7,976.8 L1020.8,973.4 L1026.8,969.9 L1032.8,966.5 L1038.8,963.1 L1044.8,959.7 L1050.8,956.3 L1056.8,952.9 L1062.8,949.6 L1068.8,946.2 L1074.8,942.9 L1080.8,939.7 L1086.8,936.4 L1092.8,933.2 L1098.8,930.1 L1104.8,927.0 L1110.8,924.0 L1116.8,921.0 L1122.9,918.1 L1128.9,915.3 L1134.9,912.5 L1140.9,909.9 L1146.9,907.3 L1152.9,904.9 L1158.9,902.6 L1164.9,900.3 L1170.9,898.2 L1176.9,896.3 L1182.9,894.4 L1188.9,892.8 L1194.9,891.2 L1200.9,889.8 L1206.9,888.6 L1212.9,887.5 L1218.9,886.6 L1225.0,885.8 L1231.0,885.2 L1237.0,884.8 L1243.0,884.6 L1249.0,884.5 L1255.0,884.5 L1261.0,884.5 L1267.0,884.5 L1273.0,884.5 " fill="none" stroke="#000" stroke-width="3" stroke-opacity="0.62"/>
<path d="M252.0,472.1 L258.0,471.3 L264.0,470.4 L270.0,469.3 L276.0,468.1 L282.0,466.8 L288.0,465.3 L294.0,463.7 L300.0,461.9 L306.1,460.0 L312.1,458.0 L318.1,455.9 L324.1,453.7 L330.1,451.4 L336.1,449.0 L342.1,446.5 L348.1,443.9 L354.1,441.2 L360.1,438.5 L366.1,435.7 L372.1,432.9 L378.1,429.9 L384.1,427.0 L390.1,424.0 L396.1,421.0 L402.1,417.9 L408.2,414.8 L414.2,411.7 L420.2,408.5 L426.2,405.4 L432.2,402.2 L438.2,399.0 L444.2,395.8 L450.2,392.6 L456.2,389.4 L462.2,386.2 L468.2,383.0 L474.2,379.8 L480.2,376.6 L486.2,373.4 L492.2,370.3 L498.2,367.1 L504.2,363.9 L510.3,360.8 L516.3,357.7 L522.3,354.6 L528.3,351.5 L534.3,348.5 L540.3,345.4 L546.3,342.4 L552.3,339.5 L558.3,336.5 L564.3,333.6 L570.3,330.7 L576.3,327.9 L582.3,325.1 L588.3,322.4 L594.3,319.7 L600.3,317.1 L606.3,314.5 L612.4,312.0 L618.4,309.6 L624.4,307.3 L630.4,305.0 L636.4,302.8 L642.4,300.7 L648.4,298.7 L654.4,296.9 L660.4,295.1 L666.4,293.4 L672.4,291.9 L678.4,290.4 L684.4,289.1 L690.4,287.9 L696.4,286.9 L702.4,286.0 L708.4,285.2 L714.5,284.6 L720.5,284.1 L726.5,283.7 L732.5,283.6 L738.5,283.5 L744.5,283.6 L750.5,283.8 L756.5,284.2 L762.5,284.8 L768.5,285.5 L774.5,286.3 L780.5,287.2 L786.5,288.3 L792.5,289.6 L798.5,290.9 L804.5,292.4 L810.5,294.1 L816.6,295.8 L822.6,297.6 L828.6,299.6 L834.6,301.6 L840.6,303.8 L846.6,306.1 L852.6,308.4 L858.6,310.8 L864.6,313.3 L870.6,315.9 L876.6,318.6 L882.6,321.3 L888.6,324.0 L894.6,326.9 L900.6,329.7 L906.6,332.7 L912.6,335.6 L918.7,338.6 L924.7,341.7 L930.7,344.7 L936.7,347.8 L942.7,351.0 L948.7,354.1 L954.7,357.3 L960.7,360.5 L966.7,363.7 L972.7,366.9 L978.7,370.1 L984.7,373.4 L990.7,376.6 L996.7,379.9 L1002.7,383.2 L1008.7,386.4 L1014.7,389.7 L1020.8,393.0 L1026.8,396.3 L1032.8,399.5 L1038.8,402.8 L1044.8,406.1 L1050.8,409.3 L1056.8,412.5 L1062.8,415.7 L1068.8,418.9 L1074.8,422.1 L1080.8,425.2 L1086.8,428.3 L1092.8,431.4 L1098.8,434.4 L1104.8,437.3 L1110.8,440.3 L1116.8,443.1 L1122.9,445.9 L1128.9,448.6 L1134.9,451.2 L1140.9,453.7 L1146.9,456.2 L1152.9,458.5 L1158.9,460.7 L1164.9,462.8 L1170.9,464.9 L1176.9,466.7 L1182.9,468.5 L1188.9,470.1 L1194.9,471.6 L1200.9,472.9 L1206.9,474.1 L1212.9,475.1 L1218.9,476.0 L1225.0,476.7 L1231.0,477.3 L1237.0,477.7 L1243.0,477.9 L1249.0,478.0 L1255.0,478.0 L1261.0,478.0 L1267.0,478.0 L1273.0,478.0 " fill="none" stroke="#000" stroke-width="3" stroke-opacity="0.62"/>
<path d="M252.0,865.8 L258.0,866.6 L264.0,867.5 L270.0,868.5 L276.0,869.7 L282.0,871.0 L288.0,872.5 L294.0,874.1 L300.0,875.8 L306.1,877.7 L312.1,879.6 L318.1,881.7 L324.1,883.9 L330.1,886.2 L336.1,888.6 L342.1,891.0 L348.1,893.6 L354.1,896.2 L360.1,898.9 L366.1,901.7 L372.1,904.5 L378.1,907.3 L384.1,910.2 L390.1,913.2 L396.1,916.2 L402.1,919.2 L408.2,922.3 L414.2,925.4 L420.2,928.5 L426.2,931.6 L432.2,934.7 L438.2,937.8 L444.2,941.0 L450.2,944.1 L456.2,947.3 L462.2,950.5 L468.2,953.6 L474.2,956.8 L480.2,959.9 L486.2,963.0 L492.2,966.2 L498.2,969.3 L504.2,972.4 L510.3,975.5 L516.3,978.6 L522.3,981.6 L528.3,984.7 L534.3,987.7 L540.3,990.7 L546.3,993.6 L552.3,996.6 L558.3,999.5 L564.3,1002.3 L570.3,1005.2 L576.3,1008.0 L582.3,1010.7 L588.3,1013.4 L594.3,1016.0 L600.3,1018.6 L606.3,1021.1 L612.4,1023.6 L618.4,1026.0 L624.4,1028.3 L630.4,1030.5 L636.4,1032.7 L642.4,1034.7 L648.4,1036.7 L654.4,1038.6 L660.4,1040.3 L666.4,1041.9 L672.4,1043.5 L678.4,1044.9 L684.4,1046.2 L690.4,1047.3 L696.4,1048.4 L702.4,1049.3 L708.4,1050.0 L714.5,1050.6 L720.5,1051.1 L726.5,1051.5 L732.5,1051.6 L738.5,1051.7 L744.5,1051.6 L750.5,1051.4 L756.5,1051.0 L762.5,1050.4 L768.5,1049.8 L774.5,1049.0 L780.5,1048.0 L786.5,1046.9 L792.5,1045.7 L798.5,1044.4 L804.5,1042.9 L810.5,1041.4 L816.6,1039.7 L822.6,1037.8 L828.6,1035.9 L834.6,1033.9 L840.6,1031.8 L846.6,1029.6 L852.6,1027.3 L858.6,1024.9 L864.6,1022.5 L870.6,1020.0 L876.6,1017.4 L882.6,1014.7 L888.6,1012.0 L894.6,1009.2 L900.6,1006.4 L906.6,1003.6 L912.6,1000.7 L918.7,997.7 L924.7,994.8 L930.7,991.8 L936.7,988.7 L942.7,985.7 L948.7,982.6 L954.7,979.5 L960.7,976.4 L966.7,973.2 L972.7,970.1 L978.7,966.9 L984.7,963.8 L990.7,960.6 L996.7,957.4 L1002.7,954.2 L1008.7,951.0 L1014.7,947.8 L1020.8,944.6 L1026.8,941.4 L1032.8,938.2 L1038.8,935.0 L1044.8,931.8 L1050.8,928.6 L1056.8,925.5 L1062.8,922.3 L1068.8,919.2 L1074.8,916.1 L1080.8,913.0 L1086.8,910.0 L1092.8,907.0 L1098.8,904.1 L1104.8,901.2 L1110.8,898.3 L1116.8,895.6 L1122.9,892.8 L1128.9,890.2 L1134.9,887.6 L1140.9,885.2 L1146.9,882.8 L1152.9,880.5 L1158.9,878.3 L1164.9,876.2 L1170.9,874.3 L1176.9,872.4 L1182.9,870.7 L1188.9,869.1 L1194.9,867.7 L1200.9,866.4 L1206.9,865.2 L1212.9,864.2 L1218.9,863.3 L1225.0,862.6 L1231.0,862.1 L1237.0,861.7 L1243.0,861.5 L1249.0,861.4 L1255.0,861.4 L1261.0,861.4 L1267.0,861.4 L1273.0,861.4 " fill="none" stroke="#000" stroke-width="3" stroke-opacity="0.62"/>
<path d="M252.0,516.8 L258.0,516.1 L264.0,515.3 L270.0,514.4 L276.0,513.4 L282.0,512.2 L288.0,510.9 L294.0,509.5 L300.0,508.0 L306.1,506.4 L312.1,504.7 L318.1,502.9 L324.1,501.0 L330.1,499.0 L336.1,496.9 L342.1,494.7 L348.1,492.5 L354.1,490.2 L360.1,487.9 L366.1,485.5 L372.1,483.0 L378.1,480.5 L384.1,478.0 L390.1,475.4 L396.1,472.8 L402.1,470.1 L408.2,467.4 L414.2,464.8 L420.2,462.0 L426.2,459.3 L432.2,456.6 L438.2,453.8 L444.2,451.1 L450.2,448.3 L456.2,445.6 L462.2,442.8 L468.2,440.1 L474.2,437.3 L480.2,434.6 L486.2,431.8 L492.2,429.1 L498.2,426.4 L504.2,423.7 L510.3,421.0 L516.3,418.3 L522.3,415.6 L528.3,413.0 L534.3,410.3 L540.3,407.7 L546.3,405.1 L552.3,402.6 L558.3,400.1 L564.3,397.5 L570.3,395.1 L576.3,392.6 L582.3,390.2 L588.3,387.9 L594.3,385.6 L600.3,383.3 L606.3,381.1 L612.4,379.0 L618.4,376.9 L624.4,374.9 L630.4,372.9 L636.4,371.1 L642.4,369.3 L648.4,367.5 L654.4,365.9 L660.4,364.4 L666.4,362.9 L672.4,361.6 L678.4,360.4 L684.4,359.2 L690.4,358.2 L696.4,357.3 L702.4,356.5 L708.4,355.9 L714.5,355.3 L720.5,354.9 L726.5,354.6 L732.5,354.4 L738.5,354.4 L744.5,354.5 L750.5,354.7 L756.5,355.0 L762.5,355.5 L768.5,356.1 L774.5,356.8 L780.5,357.6 L786.5,358.6 L792.5,359.6 L798.5,360.8 L804.5,362.1 L810.5,363.5 L816.6,365.0 L822.6,366.6 L828.6,368.3 L834.6,370.1 L840.6,371.9 L846.6,373.9 L852.6,375.9 L858.6,378.0 L864.6,380.2 L870.6,382.4 L876.6,384.7 L882.6,387.0 L888.6,389.4 L894.6,391.9 L900.6,394.4 L906.6,396.9 L912.6,399.5 L918.7,402.0 L924.7,404.7 L930.7,407.3 L936.7,410.0 L942.7,412.7 L948.7,415.4 L954.7,418.2 L960.7,420.9 L966.7,423.7 L972.7,426.5 L978.7,429.3 L984.7,432.1 L990.7,434.9 L996.7,437.7 L1002.7,440.5 L1008.7,443.4 L1014.7,446.2 L1020.8,449.0 L1026.8,451.9 L1032.8,454.7 L1038.8,457.5 L1044.8,460.3 L1050.8,463.1 L1056.8,465.9 L1062.8,468.7 L1068.8,471.4 L1074.8,474.2 L1080.8,476.9 L1086.8,479.6 L1092.8,482.2 L1098.8,484.8 L1104.8,487.4 L1110.8,489.9 L1116.8,492.3 L1122.9,494.7 L1128.9,497.1 L1134.9,499.3 L1140.9,501.5 L1146.9,503.6 L1152.9,505.6 L1158.9,507.6 L1164.9,509.4 L1170.9,511.1 L1176.9,512.8 L1182.9,514.3 L1188.9,515.7 L1194.9,517.0 L1200.9,518.1 L1206.9,519.1 L1212.9,520.0 L1218.9,520.8 L1225.0,521.4 L1231.0,521.9 L1237.0,522.2 L1243.0,522.4 L1249.0,522.5 L1255.0,522.5 L1261.0,522.5 L1267.0,522.5 L1273.0,522.5 " fill="none" stroke="#000" stroke-width="3" stroke-opacity="0.62"/>
<path d="M252.0,820.8 L258.0,821.4 L264.0,822.2 L270.0,823.1 L276.0,824.2 L282.0,825.4 L288.0,826.7 L294.0,828.1 L300.0,829.6 L306.1,831.3 L312.1,833.0 L318.1,834.9 L324.1,836.8 L330.1,838.8 L336.1,840.9 L342.1,843.1 L348.1,845.4 L354.1,847.7 L360.1,850.1 L366.1,852.6 L372.1,855.1 L378.1,857.6 L384.1,860.2 L390.1,862.8 L396.1,865.5 L402.1,868.1 L408.2,870.9 L414.2,873.6 L420.2,876.3 L426.2,879.1 L432.2,881.9 L438.2,884.7 L444.2,887.5 L450.2,890.3 L456.2,893.1 L462.2,895.9 L468.2,898.7 L474.2,901.5 L480.2,904.2 L486.2,907.0 L492.2,909.8 L498.2,912.6 L504.2,915.3 L510.3,918.1 L516.3,920.8 L522.3,923.5 L528.3,926.2 L534.3,928.9 L540.3,931.5 L546.3,934.2 L552.3,936.8 L558.3,939.3 L564.3,941.9 L570.3,944.4 L576.3,946.9 L582.3,949.3 L588.3,951.7 L594.3,954.0 L600.3,956.3 L606.3,958.6 L612.4,960.8 L618.4,962.9 L624.4,964.9 L630.4,966.9 L636.4,968.8 L642.4,970.6 L648.4,972.4 L654.4,974.0 L660.4,975.6 L666.4,977.0 L672.4,978.4 L678.4,979.7 L684.4,980.8 L690.4,981.8 L696.4,982.7 L702.4,983.5 L708.4,984.2 L714.5,984.8 L720.5,985.2 L726.5,985.5 L732.5,985.7 L738.5,985.7 L744.5,985.6 L750.5,985.4 L756.5,985.1 L762.5,984.6 L768.5,984.0 L774.5,983.3 L780.5,982.4 L786.5,981.5 L792.5,980.4 L798.5,979.2 L804.5,977.9 L810.5,976.5 L816.6,975.0 L822.6,973.4 L828.6,971.7 L834.6,969.9 L840.6,968.0 L846.6,966.1 L852.6,964.0 L858.6,961.9 L864.6,959.7 L870.6,957.5 L876.6,955.2 L882.6,952.8 L888.6,950.4 L894.6,948.0 L900.6,945.5 L906.6,942.9 L912.6,940.4 L918.7,937.8 L924.7,935.1 L930.7,932.4 L936.7,929.7 L942.7,927.0 L948.7,924.3 L954.7,921.5 L960.7,918.8 L966.7,916.0 L972.7,913.2 L978.7,910.4 L984.7,907.6 L990.7,904.7 L996.7,901.9 L1002.7,899.1 L1008.7,896.2 L1014.7,893.4 L1020.8,890.5 L1026.8,887.7 L1032.8,884.8 L1038.8,882.0 L1044.8,879.2 L1050.8,876.3 L1056.8,873.5 L1062.8,870.7 L1068.8,868.0 L1074.8,865.2 L1080.8,862.5 L1086.8,859.8 L1092.8,857.1 L1098.8,854.5 L1104.8,851.9 L1110.8,849.4 L1116.8,846.9 L1122.9,844.5 L1128.9,842.2 L1134.9,839.9 L1140.9,837.7 L1146.9,835.6 L1152.9,833.6 L1158.9,831.6 L1164.9,829.8 L1170.9,828.0 L1176.9,826.4 L1182.9,824.9 L1188.9,823.5 L1194.9,822.2 L1200.9,821.0 L1206.9,820.0 L1212.9,819.1 L1218.9,818.3 L1225.0,817.7 L1231.0,817.2 L1237.0,816.9 L1243.0,816.7 L1249.0,816.6 L1255.0,816.6 L1261.0,816.6 L1267.0,816.6 L1273.0,816.6 " fill="none" stroke="#000" stroke-width="3" stroke-opacity="0.62"/>
<rect x="1100" y="342" width="24" height="26" fill="#fff"/>
<line x1="255.8" y1="142.4" x2="255.8" y2="1198.5" stroke="#000" stroke-opacity="0.47" stroke-width="6"/>
<line x1="390.5" y1="142.4" x2="390.5" y2="1198.5" stroke="#000" stroke-opacity="0.62" stroke-width="5.2"/>
<line x1="528.6" y1="142.4" x2="528.6" y2="1198.5" stroke="#000" stroke-opacity="0.62" stroke-width="5.2"/>
<line x1="673.5" y1="142.4" x2="673.5" y2="1198.5" stroke="#000" stroke-opacity="0.62" stroke-width="5.2"/>
<line x1="811.2" y1="142.4" x2="811.2" y2="1198.5" stroke="#000" stroke-opacity="0.62" stroke-width="5.2"/>
<line x1="948.2" y1="142.4" x2="948.2" y2="1198.5" stroke="#000" stroke-opacity="0.62" stroke-width="5.2"/>
<line x1="1090.2" y1="142.4" x2="1090.2" y2="1198.5" stroke="#000" stroke-opacity="0.62" stroke-width="5.2"/>
<line x1="1223.3" y1="142.4" x2="1223.3" y2="1198.5" stroke="#000" stroke-opacity="0.62" stroke-width="5.2"/>
<line x1="235.6" y1="262.3" x2="1289.6" y2="262.3" stroke="#000" stroke-opacity="0.74" stroke-width="5"/>
<line x1="235.6" y1="394.5" x2="1289.6" y2="394.5" stroke="#000" stroke-opacity="0.74" stroke-width="5"/>
<line x1="235.6" y1="530.2" x2="1289.6" y2="530.2" stroke="#000" stroke-opacity="0.74" stroke-width="5"/>
<line x1="235.6" y1="669.0" x2="1289.6" y2="669.0" stroke="#000" stroke-opacity="0.74" stroke-width="5"/>
<line x1="235.6" y1="802.4" x2="1289.6" y2="802.4" stroke="#000" stroke-opacity="0.74" stroke-width="5"/>
<line x1="235.6" y1="939.4" x2="1289.6" y2="939.4" stroke="#000" stroke-opacity="0.74" stroke-width="5"/>
<line x1="235.6" y1="1072.5" x2="1289.6" y2="1072.5" stroke="#000" stroke-opacity="0.74" stroke-width="5"/>
<line x1="280.0" y1="142.4" x2="280.0" y2="153.4" stroke="#111" stroke-width="3.6"/>
<line x1="280.0" y1="1198.5" x2="280.0" y2="1187.5" stroke="#111" stroke-width="3.6"/>
<line x1="307.9" y1="142.4" x2="307.9" y2="153.4" stroke="#111" stroke-width="3.6"/>
<line x1="307.9" y1="1198.5" x2="307.9" y2="1187.5" stroke="#111" stroke-width="3.6"/>
<line x1="335.8" y1="142.4" x2="335.8" y2="153.4" stroke="#111" stroke-width="3.6"/>
<line x1="335.8" y1="1198.5" x2="335.8" y2="1187.5" stroke="#111" stroke-width="3.6"/>
<line x1="363.6" y1="142.4" x2="363.6" y2="153.4" stroke="#111" stroke-width="3.6"/>
<line x1="363.6" y1="1198.5" x2="363.6" y2="1187.5" stroke="#111" stroke-width="3.6"/>
<line x1="419.4" y1="142.4" x2="419.4" y2="153.4" stroke="#111" stroke-width="3.6"/>
<line x1="419.4" y1="1198.5" x2="419.4" y2="1187.5" stroke="#111" stroke-width="3.6"/>
<line x1="447.3" y1="142.4" x2="447.3" y2="153.4" stroke="#111" stroke-width="3.6"/>
<line x1="447.3" y1="1198.5" x2="447.3" y2="1187.5" stroke="#111" stroke-width="3.6"/>
<line x1="475.2" y1="142.4" x2="475.2" y2="153.4" stroke="#111" stroke-width="3.6"/>
<line x1="475.2" y1="1198.5" x2="475.2" y2="1187.5" stroke="#111" stroke-width="3.6"/>
<line x1="503.0" y1="142.4" x2="503.0" y2="153.4" stroke="#111" stroke-width="3.6"/>
<line x1="503.0" y1="1198.5" x2="503.0" y2="1187.5" stroke="#111" stroke-width="3.6"/>
<line x1="558.8" y1="142.4" x2="558.8" y2="153.4" stroke="#111" stroke-width="3.6"/>
<line x1="558.8" y1="1198.5" x2="558.8" y2="1187.5" stroke="#111" stroke-width="3.6"/>
<line x1="586.7" y1="142.4" x2="586.7" y2="153.4" stroke="#111" stroke-width="3.6"/>
<line x1="586.7" y1="1198.5" x2="586.7" y2="1187.5" stroke="#111" stroke-width="3.6"/>
<line x1="614.6" y1="142.4" x2="614.6" y2="153.4" stroke="#111" stroke-width="3.6"/>
<line x1="614.6" y1="1198.5" x2="614.6" y2="1187.5" stroke="#111" stroke-width="3.6"/>
<line x1="642.4" y1="142.4" x2="642.4" y2="153.4" stroke="#111" stroke-width="3.6"/>
<line x1="642.4" y1="1198.5" x2="642.4" y2="1187.5" stroke="#111" stroke-width="3.6"/>
<line x1="698.2" y1="142.4" x2="698.2" y2="153.4" stroke="#111" stroke-width="3.6"/>
<line x1="698.2" y1="1198.5" x2="698.2" y2="1187.5" stroke="#111" stroke-width="3.6"/>
<line x1="726.1" y1="142.4" x2="726.1" y2="153.4" stroke="#111" stroke-width="3.6"/>
<line x1="726.1" y1="1198.5" x2="726.1" y2="1187.5" stroke="#111" stroke-width="3.6"/>
<line x1="754.0" y1="142.4" x2="754.0" y2="153.4" stroke="#111" stroke-width="3.6"/>
<line x1="754.0" y1="1198.5" x2="754.0" y2="1187.5" stroke="#111" stroke-width="3.6"/>
<line x1="781.8" y1="142.4" x2="781.8" y2="153.4" stroke="#111" stroke-width="3.6"/>
<line x1="781.8" y1="1198.5" x2="781.8" y2="1187.5" stroke="#111" stroke-width="3.6"/>
<line x1="837.6" y1="142.4" x2="837.6" y2="153.4" stroke="#111" stroke-width="3.6"/>
<line x1="837.6" y1="1198.5" x2="837.6" y2="1187.5" stroke="#111" stroke-width="3.6"/>
<line x1="865.5" y1="142.4" x2="865.5" y2="153.4" stroke="#111" stroke-width="3.6"/>
<line x1="865.5" y1="1198.5" x2="865.5" y2="1187.5" stroke="#111" stroke-width="3.6"/>
<line x1="893.4" y1="142.4" x2="893.4" y2="153.4" stroke="#111" stroke-width="3.6"/>
<line x1="893.4" y1="1198.5" x2="893.4" y2="1187.5" stroke="#111" stroke-width="3.6"/>
<line x1="921.2" y1="142.4" x2="921.2" y2="153.4" stroke="#111" stroke-width="3.6"/>
<line x1="921.2" y1="1198.5" x2="921.2" y2="1187.5" stroke="#111" stroke-width="3.6"/>
<line x1="977.0" y1="142.4" x2="977.0" y2="153.4" stroke="#111" stroke-width="3.6"/>
<line x1="977.0" y1="1198.5" x2="977.0" y2="1187.5" stroke="#111" stroke-width="3.6"/>
<line x1="1004.9" y1="142.4" x2="1004.9" y2="153.4" stroke="#111" stroke-width="3.6"/>
<line x1="1004.9" y1="1198.5" x2="1004.9" y2="1187.5" stroke="#111" stroke-width="3.6"/>
<line x1="1032.8" y1="142.4" x2="1032.8" y2="153.4" stroke="#111" stroke-width="3.6"/>
<line x1="1032.8" y1="1198.5" x2="1032.8" y2="1187.5" stroke="#111" stroke-width="3.6"/>
<line x1="1060.6" y1="142.4" x2="1060.6" y2="153.4" stroke="#111" stroke-width="3.6"/>
<line x1="1060.6" y1="1198.5" x2="1060.6" y2="1187.5" stroke="#111" stroke-width="3.6"/>
<line x1="1116.4" y1="142.4" x2="1116.4" y2="153.4" stroke="#111" stroke-width="3.6"/>
<line x1="1116.4" y1="1198.5" x2="1116.4" y2="1187.5" stroke="#111" stroke-width="3.6"/>
<line x1="1144.3" y1="142.4" x2="1144.3" y2="153.4" stroke="#111" stroke-width="3.6"/>
<line x1="1144.3" y1="1198.5" x2="1144.3" y2="1187.5" stroke="#111" stroke-width="3.6"/>
<line x1="1172.2" y1="142.4" x2="1172.2" y2="153.4" stroke="#111" stroke-width="3.6"/>
<line x1="1172.2" y1="1198.5" x2="1172.2" y2="1187.5" stroke="#111" stroke-width="3.6"/>
<line x1="1200.0" y1="142.4" x2="1200.0" y2="153.4" stroke="#111" stroke-width="3.6"/>
<line x1="1200.0" y1="1198.5" x2="1200.0" y2="1187.5" stroke="#111" stroke-width="3.6"/>
<line x1="1255.8" y1="142.4" x2="1255.8" y2="153.4" stroke="#111" stroke-width="3.6"/>
<line x1="1255.8" y1="1198.5" x2="1255.8" y2="1187.5" stroke="#111" stroke-width="3.6"/>
<line x1="1283.7" y1="142.4" x2="1283.7" y2="153.4" stroke="#111" stroke-width="3.6"/>
<line x1="1283.7" y1="1198.5" x2="1283.7" y2="1187.5" stroke="#111" stroke-width="3.6"/>
<line x1="255.8" y1="142.4" x2="255.8" y2="158.4" stroke="#111" stroke-width="4"/>
<line x1="255.8" y1="1198.5" x2="255.8" y2="1181.5" stroke="#111" stroke-width="4"/>
<line x1="390.5" y1="142.4" x2="390.5" y2="158.4" stroke="#111" stroke-width="4"/>
<line x1="390.5" y1="1198.5" x2="390.5" y2="1181.5" stroke="#111" stroke-width="4"/>
<line x1="528.6" y1="142.4" x2="528.6" y2="158.4" stroke="#111" stroke-width="4"/>
<line x1="528.6" y1="1198.5" x2="528.6" y2="1181.5" stroke="#111" stroke-width="4"/>
<line x1="673.5" y1="142.4" x2="673.5" y2="158.4" stroke="#111" stroke-width="4"/>
<line x1="673.5" y1="1198.5" x2="673.5" y2="1181.5" stroke="#111" stroke-width="4"/>
<line x1="811.2" y1="142.4" x2="811.2" y2="158.4" stroke="#111" stroke-width="4"/>
<line x1="811.2" y1="1198.5" x2="811.2" y2="1181.5" stroke="#111" stroke-width="4"/>
<line x1="948.2" y1="142.4" x2="948.2" y2="158.4" stroke="#111" stroke-width="4"/>
<line x1="948.2" y1="1198.5" x2="948.2" y2="1181.5" stroke="#111" stroke-width="4"/>
<line x1="1090.2" y1="142.4" x2="1090.2" y2="158.4" stroke="#111" stroke-width="4"/>
<line x1="1090.2" y1="1198.5" x2="1090.2" y2="1181.5" stroke="#111" stroke-width="4"/>
<line x1="1223.3" y1="142.4" x2="1223.3" y2="158.4" stroke="#111" stroke-width="4"/>
<line x1="1223.3" y1="1198.5" x2="1223.3" y2="1181.5" stroke="#111" stroke-width="4"/>
<line x1="235.6" y1="164.4" x2="246.6" y2="164.4" stroke="#111" stroke-width="3.8"/>
<line x1="1289.6" y1="164.4" x2="1278.6" y2="164.4" stroke="#111" stroke-width="3.8"/>
<line x1="235.6" y1="196.4" x2="246.6" y2="196.4" stroke="#111" stroke-width="3.8"/>
<line x1="1289.6" y1="196.4" x2="1278.6" y2="196.4" stroke="#111" stroke-width="3.8"/>
<line x1="235.6" y1="231.0" x2="246.6" y2="231.0" stroke="#111" stroke-width="3.8"/>
<line x1="1289.6" y1="231.0" x2="1278.6" y2="231.0" stroke="#111" stroke-width="3.8"/>
<line x1="235.6" y1="297.8" x2="246.6" y2="297.8" stroke="#111" stroke-width="3.8"/>
<line x1="1289.6" y1="297.8" x2="1278.6" y2="297.8" stroke="#111" stroke-width="3.8"/>
<line x1="235.6" y1="332.5" x2="246.6" y2="332.5" stroke="#111" stroke-width="3.8"/>
<line x1="1289.6" y1="332.5" x2="1278.6" y2="332.5" stroke="#111" stroke-width="3.8"/>
<line x1="235.6" y1="367.5" x2="246.6" y2="367.5" stroke="#111" stroke-width="3.8"/>
<line x1="1289.6" y1="367.5" x2="1278.6" y2="367.5" stroke="#111" stroke-width="3.8"/>
<line x1="235.6" y1="433.8" x2="246.6" y2="433.8" stroke="#111" stroke-width="3.8"/>
<line x1="1289.6" y1="433.8" x2="1278.6" y2="433.8" stroke="#111" stroke-width="3.8"/>
<line x1="235.6" y1="467.6" x2="246.6" y2="467.6" stroke="#111" stroke-width="3.8"/>
<line x1="1289.6" y1="467.6" x2="1278.6" y2="467.6" stroke="#111" stroke-width="3.8"/>
<line x1="235.6" y1="501.0" x2="246.6" y2="501.0" stroke="#111" stroke-width="3.8"/>
<line x1="1289.6" y1="501.0" x2="1278.6" y2="501.0" stroke="#111" stroke-width="3.8"/>
<line x1="235.6" y1="568.5" x2="246.6" y2="568.5" stroke="#111" stroke-width="3.8"/>
<line x1="1289.6" y1="568.5" x2="1278.6" y2="568.5" stroke="#111" stroke-width="3.8"/>
<line x1="235.6" y1="602.7" x2="246.6" y2="602.7" stroke="#111" stroke-width="3.8"/>
<line x1="1289.6" y1="602.7" x2="1278.6" y2="602.7" stroke="#111" stroke-width="3.8"/>
<line x1="235.6" y1="634.6" x2="246.6" y2="634.6" stroke="#111" stroke-width="3.8"/>
<line x1="1289.6" y1="634.6" x2="1278.6" y2="634.6" stroke="#111" stroke-width="3.8"/>
<line x1="235.6" y1="703.0" x2="246.6" y2="703.0" stroke="#111" stroke-width="3.8"/>
<line x1="1289.6" y1="703.0" x2="1278.6" y2="703.0" stroke="#111" stroke-width="3.8"/>
<line x1="235.6" y1="738.5" x2="246.6" y2="738.5" stroke="#111" stroke-width="3.8"/>
<line x1="1289.6" y1="738.5" x2="1278.6" y2="738.5" stroke="#111" stroke-width="3.8"/>
<line x1="235.6" y1="771.5" x2="246.6" y2="771.5" stroke="#111" stroke-width="3.8"/>
<line x1="1289.6" y1="771.5" x2="1278.6" y2="771.5" stroke="#111" stroke-width="3.8"/>
<line x1="235.6" y1="839.5" x2="246.6" y2="839.5" stroke="#111" stroke-width="3.8"/>
<line x1="1289.6" y1="839.5" x2="1278.6" y2="839.5" stroke="#111" stroke-width="3.8"/>
<line x1="235.6" y1="873.2" x2="246.6" y2="873.2" stroke="#111" stroke-width="3.8"/>
<line x1="1289.6" y1="873.2" x2="1278.6" y2="873.2" stroke="#111" stroke-width="3.8"/>
<line x1="235.6" y1="908.0" x2="246.6" y2="908.0" stroke="#111" stroke-width="3.8"/>
<line x1="1289.6" y1="908.0" x2="1278.6" y2="908.0" stroke="#111" stroke-width="3.8"/>
<line x1="235.6" y1="974.4" x2="246.6" y2="974.4" stroke="#111" stroke-width="3.8"/>
<line x1="1289.6" y1="974.4" x2="1278.6" y2="974.4" stroke="#111" stroke-width="3.8"/>
<line x1="235.6" y1="1009.0" x2="246.6" y2="1009.0" stroke="#111" stroke-width="3.8"/>
<line x1="1289.6" y1="1009.0" x2="1278.6" y2="1009.0" stroke="#111" stroke-width="3.8"/>
<line x1="235.6" y1="1041.5" x2="246.6" y2="1041.5" stroke="#111" stroke-width="3.8"/>
<line x1="1289.6" y1="1041.5" x2="1278.6" y2="1041.5" stroke="#111" stroke-width="3.8"/>
<line x1="235.6" y1="1110.0" x2="246.6" y2="1110.0" stroke="#111" stroke-width="3.8"/>
<line x1="1289.6" y1="1110.0" x2="1278.6" y2="1110.0" stroke="#111" stroke-width="3.8"/>
<line x1="235.6" y1="1144.2" x2="246.6" y2="1144.2" stroke="#111" stroke-width="3.8"/>
<line x1="1289.6" y1="1144.2" x2="1278.6" y2="1144.2" stroke="#111" stroke-width="3.8"/>
<line x1="235.6" y1="1178.3" x2="246.6" y2="1178.3" stroke="#111" stroke-width="3.8"/>
<line x1="1289.6" y1="1178.3" x2="1278.6" y2="1178.3" stroke="#111" stroke-width="3.8"/>
<line x1="235.6" y1="262.3" x2="249.6" y2="262.3" stroke="#111" stroke-width="4.5"/>
<line x1="1289.6" y1="262.3" x2="1275.6" y2="262.3" stroke="#111" stroke-width="4.5"/>
<line x1="235.6" y1="394.5" x2="249.6" y2="394.5" stroke="#111" stroke-width="4.5"/>
<line x1="1289.6" y1="394.5" x2="1275.6" y2="394.5" stroke="#111" stroke-width="4.5"/>
<line x1="235.6" y1="530.2" x2="249.6" y2="530.2" stroke="#111" stroke-width="4.5"/>
<line x1="1289.6" y1="530.2" x2="1275.6" y2="530.2" stroke="#111" stroke-width="4.5"/>
<line x1="235.6" y1="669.0" x2="249.6" y2="669.0" stroke="#111" stroke-width="4.5"/>
<line x1="1289.6" y1="669.0" x2="1275.6" y2="669.0" stroke="#111" stroke-width="4.5"/>
<line x1="235.6" y1="802.4" x2="249.6" y2="802.4" stroke="#111" stroke-width="4.5"/>
<line x1="1289.6" y1="802.4" x2="1275.6" y2="802.4" stroke="#111" stroke-width="4.5"/>
<line x1="235.6" y1="939.4" x2="249.6" y2="939.4" stroke="#111" stroke-width="4.5"/>
<line x1="1289.6" y1="939.4" x2="1275.6" y2="939.4" stroke="#111" stroke-width="4.5"/>
<line x1="235.6" y1="1072.5" x2="249.6" y2="1072.5" stroke="#111" stroke-width="4.5"/>
<line x1="1289.6" y1="1072.5" x2="1275.6" y2="1072.5" stroke="#111" stroke-width="4.5"/>
<line x1="233.6" y1="142.4" x2="1291.6" y2="142.4" stroke="#0a0a0a" stroke-width="4"/>
<line x1="235.6" y1="140.4" x2="235.6" y2="1201.5" stroke="#1a1a1a" stroke-width="4.6"/>
<line x1="1289.6" y1="140.4" x2="1289.6" y2="1201.5" stroke="#1a1a1a" stroke-width="4.6"/>
<line x1="233.6" y1="1198.5" x2="1291.6" y2="1198.5" stroke="#000" stroke-opacity="0.6" stroke-width="7"/>
<text x="104.79" y="89.60" font-family="Liberation Sans, Arial, sans-serif" font-size="77.58" letter-spacing="1.078" fill="#141414" stroke="#141414" stroke-width="2.2" stroke-linejoin="round">(c) H. single-axis tracker (Scenario 2)</text>
<text x="672.26" y="1387.00" font-family="Liberation Sans, Arial, sans-serif" font-size="77.29" letter-spacing="0.933" fill="#141414" stroke="#141414" stroke-width="2.2" stroke-linejoin="round">Day</text>
<text transform="translate(107.60,812.48) rotate(-90)" x="0" y="0" font-family="Liberation Sans, Arial, sans-serif" font-size="76.42" letter-spacing="1.037" fill="#141414" stroke="#141414" stroke-width="2.2" stroke-linejoin="round">T (Hour)</text>
<text x="147.04" y="271.40" font-family="Liberation Sans, Arial, sans-serif" font-size="50.07" letter-spacing="0.230" fill="#141414" stroke="#141414" stroke-width="2.2" stroke-linejoin="round">18</text>
<text x="147.04" y="404.00" font-family="Liberation Sans, Arial, sans-serif" font-size="50.07" letter-spacing="0.280" fill="#141414" stroke="#141414" stroke-width="2.2" stroke-linejoin="round">16</text>
<text x="146.89" y="545.50" font-family="Liberation Sans, Arial, sans-serif" font-size="50.07" letter-spacing="-0.221" fill="#141414" stroke="#141414" stroke-width="2.2" stroke-linejoin="round">14</text>
<text x="146.89" y="678.90" font-family="Liberation Sans, Arial, sans-serif" font-size="50.07" letter-spacing="0.830" fill="#141414" stroke="#141414" stroke-width="2.2" stroke-linejoin="round">12</text>
<text x="146.67" y="816.00" font-family="Liberation Sans, Arial, sans-serif" font-size="49.08" letter-spacing="1.867" fill="#141414" stroke="#141414" stroke-width="2.2" stroke-linejoin="round">10</text>
<text x="175.43" y="953.50" font-family="Liberation Sans, Arial, sans-serif" font-size="50.78" letter-spacing="0.000" fill="#141414" stroke="#141414" stroke-width="2.2" stroke-linejoin="round">8</text>
<text x="175.26" y="1086.40" font-family="Liberation Sans, Arial, sans-serif" font-size="50.78" letter-spacing="0.000" fill="#141414" stroke="#141414" stroke-width="2.2" stroke-linejoin="round">6</text>
<text x="238.57" y="1267.60" font-family="Liberation Sans, Arial, sans-serif" font-size="49.50" letter-spacing="0.000" fill="#141414" stroke="#141414" stroke-width="2.2" stroke-linejoin="round">1</text>
<text x="363.62" y="1267.60" font-family="Liberation Sans, Arial, sans-serif" font-size="49.50" letter-spacing="-0.339" fill="#141414" stroke="#141414" stroke-width="2.2" stroke-linejoin="round">50</text>
<text x="488.54" y="1267.60" font-family="Liberation Sans, Arial, sans-serif" font-size="49.50" letter-spacing="0.959" fill="#141414" stroke="#141414" stroke-width="2.2" stroke-linejoin="round">100</text>
<text x="628.84" y="1267.60" font-family="Liberation Sans, Arial, sans-serif" font-size="49.50" letter-spacing="0.209" fill="#141414" stroke="#141414" stroke-width="2.2" stroke-linejoin="round">150</text>
<text x="763.22" y="1267.60" font-family="Liberation Sans, Arial, sans-serif" font-size="49.50" letter-spacing="1.316" fill="#141414" stroke="#141414" stroke-width="2.2" stroke-linejoin="round">200</text>
<text x="907.21" y="1263.50" font-family="Liberation Sans, Arial, sans-serif" font-size="51.77" letter-spacing="-0.721" fill="#141414" stroke="#141414" stroke-width="2.2" stroke-linejoin="round">250</text>
<text x="1041.93" y="1263.50" font-family="Liberation Sans, Arial, sans-serif" font-size="51.77" letter-spacing="-0.981" fill="#141414" stroke="#141414" stroke-width="2.2" stroke-linejoin="round">300</text>
<text x="1183.32" y="1267.90" font-family="Liberation Sans, Arial, sans-serif" font-size="52.05" letter-spacing="-0.507" fill="#141414" stroke="#141414" stroke-width="2.2" stroke-linejoin="round">350</text>
<text transform="scale(1.0,1)" x="701.03" y="258.65" font-family="Liberation Sans, Arial, sans-serif" font-size="52.90" letter-spacing="-2.075" fill="#101010" stroke="#101010" stroke-width="1.3">4.0</text>
<text transform="scale(1.0,1)" x="573.55" y="315.95" font-family="Liberation Sans, Arial, sans-serif" font-size="52.76" letter-spacing="-2.886" fill="#101010" stroke="#101010" stroke-width="1.3">3.0</text>
<text transform="scale(1.0,1)" x="697.96" y="337.65" font-family="Liberation Sans, Arial, sans-serif" font-size="51.77" letter-spacing="0.225" fill="#101010" stroke="#101010" stroke-width="1.3">2.0</text>
<text transform="scale(1.0,1)" x="1108.35" y="373.15" font-family="Liberation Sans, Arial, sans-serif" font-size="51.34" letter-spacing="0.163" fill="#101010" stroke="#101010" stroke-width="1.3">10.0</text>
<text transform="scale(1.0,1)" x="274.89" y="643.15" font-family="Liberation Sans, Arial, sans-serif" font-size="50.78" letter-spacing="-0.571" fill="#101010" stroke="#101010" stroke-width="1.3">1.0</text>
<text transform="scale(1.0,1)" x="707.63" y="648.05" font-family="Liberation Sans, Arial, sans-serif" font-size="52.90" letter-spacing="-1.173" fill="#101010" stroke="#101010" stroke-width="1.3">1.0</text>
<text transform="scale(1.0,1)" x="1128.74" y="643.65" font-family="Liberation Sans, Arial, sans-serif" font-size="51.49" letter-spacing="-0.772" fill="#101010" stroke="#101010" stroke-width="1.3">1.0</text>
<text transform="scale(1.0,1)" x="693.67" y="1042.55" font-family="Liberation Sans, Arial, sans-serif" font-size="51.63" letter-spacing="0.717" fill="#101010" stroke="#101010" stroke-width="1.3">2.0</text>
<text transform="scale(1.0,1)" x="570.13" y="1063.45" font-family="Liberation Sans, Arial, sans-serif" font-size="50.50" letter-spacing="-1.400" fill="#101010" stroke="#101010" stroke-width="1.3">3.0</text>
<text transform="scale(1.0,1)" x="698.46" y="1118.05" font-family="Liberation Sans, Arial, sans-serif" font-size="51.63" letter-spacing="-1.680" fill="#101010" stroke="#101010" stroke-width="1.3">4.0</text>
<text transform="scale(1.0,1)" x="1110.28" y="1007.05" font-family="Liberation Sans, Arial, sans-serif" font-size="52.19" letter-spacing="-2.588" fill="#101010" stroke="#101010" stroke-width="1.3">10.0</text>
<rect x="459.5" y="299.5" width="3.5" height="12.0" fill="#111" fill-opacity="0.85"/>
<rect x="459.5" y="308" width="7.5" height="3.5" fill="#111" fill-opacity="0.85"/>
<rect x="897" y="379" width="6" height="4" fill="#111" fill-opacity="0.85"/>
<rect x="897" y="379" width="2.5" height="13" fill="#111" fill-opacity="0.85"/>
<rect x="901" y="383" width="2" height="9" fill="#111" fill-opacity="0.85"/>
<rect x="898.5" y="392" width="3.0" height="9" fill="#111" fill-opacity="0.85"/>
<rect x="858.75" y="1013.5" width="7.5" height="3.0" fill="#111" fill-opacity="0.85"/>
<rect x="866" y="1023.5" width="5" height="6.5" fill="#111" fill-opacity="0.85"/>
<rect x="933.75" y="1040" width="5.0" height="5" fill="#111" fill-opacity="0.85"/>
<rect x="935.5" y="1050" width="5.0" height="10" fill="#111" fill-opacity="0.85"/>
<rect x="1260.5" y="822.8" width="13.0" height="3.900000000000091" fill="#111" fill-opacity="0.85"/>
<rect x="1238.5" y="880" width="3.5" height="8.5" fill="#111" fill-opacity="0.85"/>
<rect x="1238.5" y="885" width="13.5" height="3.5" fill="#111" fill-opacity="0.85"/>
<rect x="1243" y="871" width="4" height="4" fill="#111" fill-opacity="0.85"/>
<line x1="365" y1="659.5" x2="365" y2="680.4" stroke="#222" stroke-width="3.5"/>
<line x1="763.9" y1="658" x2="763.9" y2="681.4" stroke="#222" stroke-width="3.5"/>
</g>
</svg></body></html>
